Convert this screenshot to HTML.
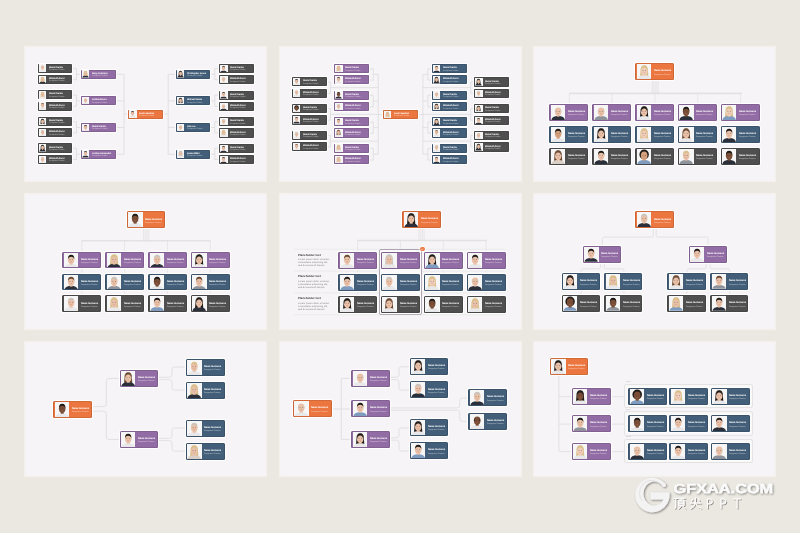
<!DOCTYPE html><html><head><meta charset="utf-8"><style>
*{margin:0;padding:0;box-sizing:border-box}
html,body{width:800px;height:533px;overflow:hidden;background:#ebe7e1;font-family:"Liberation Sans",sans-serif;text-rendering:geometricPrecision}
.pn{position:absolute;width:243.4px;height:136.6px;background:#f6f4f6;box-shadow:inset 0 0 1px 1px rgba(243,240,232,.9),0 0 0 .4px #efebe3}
.ln{position:absolute;overflow:visible}
.c{position:absolute;border-radius:1.5px;box-shadow:inset 0 0 0 .6px rgba(0,0,0,.22),0 0 0 0.8px #fff,0 0 1.2px .8px rgba(255,255,255,.8);overflow:hidden;color:#fff}
.c i{position:absolute;left:1.5px;top:1px;bottom:1px;aspect-ratio:.96;background:#f6f6f6;overflow:hidden}
.c i svg{width:100%;height:100%;display:block}
.c b{position:absolute;left:18.6px;top:7.2px;font-size:2.5px;line-height:2.5px;letter-spacing:-.1px;white-space:nowrap;font-weight:bold;will-change:transform}
.c u{position:absolute;left:18.6px;top:11.4px;font-size:1.8px;line-height:1.8px;white-space:nowrap;text-decoration:none;color:rgba(255,255,255,.6);will-change:transform}
.s{border-radius:1px;box-shadow:inset 0 0 0 .5px rgba(0,0,0,.22),0 0 0 0.6px #fff,0 0 1px .6px rgba(255,255,255,.8)}
.s i{left:1.1px;top:.9px;bottom:.9px}
.s b{left:11px;top:3.2px;font-size:2.35px;line-height:2.3px}
.s u{left:11px;top:6.5px;font-size:1.7px;line-height:1.7px}
.gb{position:absolute}
.tl{position:absolute;font-size:1.5px;line-height:1.5px;color:#9a9a9a;white-space:nowrap;will-change:transform}
.ph{position:absolute;white-space:nowrap}
.ph b{position:absolute;left:0;top:-.9px;font-size:2.95px;line-height:3px;color:#333;will-change:transform}
.ph p{position:absolute;left:0;top:3.85px;font-size:2.55px;line-height:3.1px;color:#888;will-change:transform}
.chk{position:absolute;width:4.4px;height:4.4px;border-radius:50%;background:#ec7640;box-shadow:0 0 0 .6px #fff}
</style></head><body>
<div class="pn" style="left:24.0px;top:45.8px"></div><div class="pn" style="left:279.0px;top:45.8px"></div><div class="pn" style="left:532.5px;top:45.8px"></div><div class="pn" style="left:24.0px;top:193.1px"></div><div class="pn" style="left:279.0px;top:193.1px"></div><div class="pn" style="left:532.5px;top:193.1px"></div><div class="pn" style="left:24.0px;top:340.7px"></div><div class="pn" style="left:279.0px;top:340.7px"></div><div class="pn" style="left:532.5px;top:340.7px"></div>
<svg class="ln" style="left:24.0px;top:45.8px" width="243.4" height="136.6" viewBox="0 0 243.4 136.6"><path d="M48.3,22.40H52.5V33.70H48.3M52.5,28.30H57.1M195.3,22.40H190.8V33.70H195.3M190.8,28.30H186.4M91.9,28.30H100M151.6,28.30H144.2M48.3,49.10H52.5V60.40H48.3M52.5,54.90H57.1M195.3,49.10H190.8V60.40H195.3M190.8,54.90H186.4M91.9,54.90H100M151.6,54.90H144.2M48.3,75.70H52.5V86.90H48.3M52.5,81.50H57.1M195.3,75.70H190.8V86.90H195.3M190.8,81.50H186.4M91.9,81.50H100M151.6,81.50H144.2M48.3,102.20H52.5V113.50H48.3M52.5,108.30H57.1M195.3,102.20H190.8V113.50H195.3M190.8,108.30H186.4M91.9,108.30H100M151.6,108.30H144.2M100,28.30V108.30M144.2,28.30V108.30M100,68.00H104.4M139.2,68.00H144.2" fill="none" stroke="#dcdcdd" stroke-width="0.8"/></svg><svg class="ln" style="left:279.0px;top:45.8px" width="243.4" height="136.6" viewBox="0 0 243.4 136.6"><path d="M90.1,22.80H94.3V34.10H90.1M94.3,28.45H99.2M153.1,22.80H148.9V34.10H153.1M148.9,28.45H143.9M90.1,49.30H94.3V60.80H90.1M94.3,55.05H99.2M153.1,49.30H148.9V60.80H153.1M148.9,55.05H143.9M90.1,76.00H94.3V87.20H90.1M94.3,81.60H99.2M153.1,76.00H148.9V87.20H153.1M148.9,81.60H143.9M90.1,102.40H94.3V114.00H90.1M94.3,108.20H99.2M153.1,102.40H148.9V114.00H153.1M148.9,108.20H143.9M47.9,35.90H51.4V47.40H47.9M51.4,41.65H99.2M195.3,35.90H191.8V47.40H195.3M191.8,41.65H143.9M47.9,62.60H51.4V74.20H47.9M51.4,68.40H99.2M195.3,62.60H191.8V74.20H195.3M191.8,68.40H143.9M47.9,89.40H51.4V100.90H47.9M51.4,95.15H99.2M195.3,89.40H191.8V100.90H195.3M191.8,95.15H143.9M99.2,28.45V108.20M143.9,28.45V108.20M99.2,68.60H103.9M138.7,68.60H143.9" fill="none" stroke="#dcdcdd" stroke-width="0.8"/></svg><svg class="ln" style="left:532.5px;top:45.8px" width="243.4" height="136.6" viewBox="0 0 243.4 136.6"><path d="M36.2,47.4H208.8" fill="none" stroke="#e3e2e3" stroke-width="1.7"/><path d="M119.20,34.6V47.4M120.70,34.6V47.4M122.20,34.6V47.4M123.70,34.6V47.4M125.20,34.6V47.4M36.25,47.4V58.20M79.10,47.4V58.20M121.95,47.4V58.20M164.80,47.4V58.20M207.65,47.4V58.20" fill="none" stroke="#dddcdd" stroke-width="0.55"/></svg><svg class="ln" style="left:24.0px;top:193.1px" width="243.4" height="136.6" viewBox="0 0 243.4 136.6"><path d="M57.7,47.7H186.6" fill="none" stroke="#e3e2e3" stroke-width="1.6"/><path d="M119.60,35.2V47.7M121.30,35.2V47.7M123.00,35.2V47.7M124.70,35.2V47.7M57.75,47.7V102.30M100.60,47.7V102.30M143.45,47.7V102.30M186.30,47.7V102.30" fill="none" stroke="#dddcdd" stroke-width="0.55"/></svg><svg class="ln" style="left:279.0px;top:193.1px" width="243.4" height="136.6" viewBox="0 0 243.4 136.6"><path d="M78.6,47.5H208" fill="none" stroke="#e3e2e3" stroke-width="1.6"/><path d="M140.00,35.2V47.5M141.70,35.2V47.5M143.40,35.2V47.5M145.10,35.2V47.5M78.55,47.5V102.70M121.40,47.5V102.70M164.25,47.5V102.70M207.10,47.5V102.70" fill="none" stroke="#dddcdd" stroke-width="0.55"/><path d="M15,56.30H226M15,78.10H226M15,99.90H226M15,121.70H226" fill="none" stroke="#e4e3e4" stroke-width="0.5"/></svg><svg class="ln" style="left:532.5px;top:193.1px" width="243.4" height="136.6" viewBox="0 0 243.4 136.6"><path d="M120.40,35.20V42.50Q120.40,44.10 118.80,44.10H71.00Q69.40,44.10 69.40,45.70V52.80M123.20,35.20V42.50Q123.20,44.10 124.80,44.10H173.50Q175.10,44.10 175.10,45.70V52.80M67.45,69.60V74.20Q67.45,75.80 65.85,75.80H49.75Q48.15,75.80 48.15,77.40V80.20M71.45,69.60V74.20Q71.45,75.80 73.05,75.80H89.25Q90.85,75.80 90.85,77.40V80.20M48.15,97V102.2M90.85,97V102.2M173.25,69.60V74.20Q173.25,75.80 171.65,75.80H155.55Q153.95,75.80 153.95,77.40V80.20M177.25,69.60V74.20Q177.25,75.80 178.85,75.80H195.05Q196.65,75.80 196.65,77.40V80.20M153.95,97V102.2M196.65,97V102.2" fill="none" stroke="#dcdbdc" stroke-width="0.7"/></svg><svg class="ln" style="left:24.0px;top:340.7px" width="243.4" height="136.6" viewBox="0 0 243.4 136.6"><path d="M68.00,65.60H79.80Q82.30,65.60 82.30,63.10V40.00Q82.30,37.50 84.80,37.50H95.50M68.00,70.20H79.80Q82.30,70.20 82.30,72.70V96.00Q82.30,98.50 84.80,98.50H95.50M134.20,36.30H145.50Q148.00,36.30 148.00,33.80V28.50Q148.00,26.00 150.50,26.00H161.30M134.20,38.60H145.50Q148.00,38.60 148.00,41.10V46.60Q148.00,49.10 150.50,49.10H161.30M134.20,97.40H145.50Q148.00,97.40 148.00,94.90V89.50Q148.00,87.00 150.50,87.00H161.30M134.20,99.60H145.50Q148.00,99.60 148.00,102.10V107.60Q148.00,110.10 150.50,110.10H161.30" fill="none" stroke="#dcdcdd" stroke-width="0.8"/></svg><svg class="ln" style="left:279.0px;top:340.7px" width="243.4" height="136.6" viewBox="0 0 243.4 136.6"><path d="M52.6,68H62.3M62.3,37.4V98.4M62.3,37.4H72M62.3,68H72M62.3,98.4H72M110.90,36.30H117.50Q120.00,36.30 120.00,33.80V28.30Q120.00,25.80 122.50,25.80H130.60M110.90,38.60H117.50Q120.00,38.60 120.00,41.10V46.70Q120.00,49.20 122.50,49.20H130.60M110.90,96.80H117.50Q120.00,96.80 120.00,94.30V89.40Q120.00,86.90 122.50,86.90H130.60M110.90,99.10H117.50Q120.00,99.10 120.00,101.60V107.50Q120.00,110.00 122.50,110.00H130.60M110.90,66.90H178.20Q180.70,66.90 180.70,64.40V59.50Q180.70,57.00 183.20,57.00H189.20M110.90,69.20H178.20Q180.70,69.20 180.70,71.70V77.90Q180.70,80.40 183.20,80.40H189.20" fill="none" stroke="#dcdcdd" stroke-width="0.8"/></svg><svg class="ln" style="left:532.5px;top:340.7px" width="243.4" height="136.6" viewBox="0 0 243.4 136.6"><path d="M25.9,34.5V110.1M25.9,55.70H39M78,55.70H92.1M25.9,83.10H39M78,83.10H92.1M25.9,110.60H39M78,110.60H92.1" fill="none" stroke="#dcdcdd" stroke-width="0.8"/></svg>
<div class="c s" style="left:37.50px;top:63.60px;width:34.80px;height:9.20px;background:#4f4f4f"><i><svg viewBox="0 0 10 10" preserveAspectRatio="none"><path d="M0.3,10 Q0.6,7.6 5,7.3 Q9.4,7.6 9.7,10Z" fill="#e8e8ea"/><rect x="4.0" y="5.8" width="2.0" height="2.0" fill="#e9c1a8"/><ellipse cx="5" cy="4.4" rx="2.3" ry="2.8" fill="#e9c1a8"/><path d="M3.9,4.35h.5M5.6,4.35h.5" stroke="#4a3a33" stroke-width=".35"/><path d="M4.4,5.7Q5,6.1 5.6,5.7" stroke="#b87a6a" stroke-width=".25" fill="none"/><path d="M2.9,4.8 Q2.8,3.2 3.3,2.8 L3.4,4.6Z M7.1,4.8 Q7.2,3.2 6.7,2.8 L6.6,4.6Z" fill="#c9c4be"/></svg></i><b>Daniel Garcia</b><u>Designation Position</u></div><div class="c s" style="left:219.30px;top:63.90px;width:34.80px;height:9.20px;background:#4f4f4f"><i><svg viewBox="0 0 10 10" preserveAspectRatio="none"><path d="M0.3,10 Q0.6,7.6 5,7.3 Q9.4,7.6 9.7,10Z" fill="#2b2f3a"/><rect x="4.0" y="5.8" width="2.0" height="2.0" fill="#e9c1a8"/><ellipse cx="5" cy="4.4" rx="2.3" ry="2.8" fill="#e9c1a8"/><path d="M3.9,4.35h.5M5.6,4.35h.5" stroke="#4a3a33" stroke-width=".35"/><path d="M4.4,5.7Q5,6.1 5.6,5.7" stroke="#b87a6a" stroke-width=".25" fill="none"/><path d="M2.85,4.4 Q2.5,1.2 5,1.2 Q7.5,1.2 7.15,4.4 Q6.9,2.5 5,2.5 Q3.1,2.5 2.85,4.4Z" fill="#1e1a18"/></svg></i><b>Daniel Garcia</b><u>Designation Position</u></div><div class="c s" style="left:37.50px;top:74.90px;width:34.80px;height:9.20px;background:#4f4f4f"><i><svg viewBox="0 0 10 10" preserveAspectRatio="none"><path d="M2.4,4.6 Q2.3,0.9 5,0.9 Q7.7,0.9 7.6,4.6 L7.9,8.6 L2.1,8.6Z" fill="#d9bf8a"/><path d="M0.3,10 Q0.6,7.6 5,7.3 Q9.4,7.6 9.7,10Z" fill="#2b2f3a"/><rect x="4.0" y="5.8" width="2.0" height="2.0" fill="#e9c1a8"/><ellipse cx="5" cy="4.4" rx="2.3" ry="2.8" fill="#e9c1a8"/><path d="M3.9,4.35h.5M5.6,4.35h.5" stroke="#4a3a33" stroke-width=".35"/><path d="M4.4,5.7Q5,6.1 5.6,5.7" stroke="#b87a6a" stroke-width=".25" fill="none"/><path d="M2.8,4.9 Q2.6,1.2 5,1.2 Q7.4,1.2 7.2,4.9 Q6.7,2.2 5,2.3 Q3.3,2.2 2.8,4.9Z" fill="#d9bf8a"/></svg></i><b>Elizabeth Perez</b><u>Designation Position</u></div><div class="c s" style="left:219.30px;top:75.20px;width:34.80px;height:9.20px;background:#4f4f4f"><i><svg viewBox="0 0 10 10" preserveAspectRatio="none"><path d="M0.3,10 Q0.6,7.6 5,7.3 Q9.4,7.6 9.7,10Z" fill="#e8e8ea"/><rect x="4.0" y="5.8" width="2.0" height="2.0" fill="#e9c1a8"/><ellipse cx="5" cy="4.4" rx="2.3" ry="2.8" fill="#e9c1a8"/><path d="M3.9,4.35h.5M5.6,4.35h.5" stroke="#4a3a33" stroke-width=".35"/><path d="M4.4,5.7Q5,6.1 5.6,5.7" stroke="#b87a6a" stroke-width=".25" fill="none"/><path d="M2.85,4.4 Q2.5,1.2 5,1.2 Q7.5,1.2 7.15,4.4 Q6.9,2.5 5,2.5 Q3.1,2.5 2.85,4.4Z" fill="#c9c4be"/></svg></i><b>Elizabeth Perez</b><u>Designation Position</u></div><div class="c s" style="left:37.50px;top:90.30px;width:34.80px;height:9.20px;background:#4f4f4f"><i><svg viewBox="0 0 10 10" preserveAspectRatio="none"><path d="M2.4,4.6 Q2.3,0.9 5,0.9 Q7.7,0.9 7.6,4.6 L7.9,8.6 L2.1,8.6Z" fill="#d9bf8a"/><path d="M0.3,10 Q0.6,7.6 5,7.3 Q9.4,7.6 9.7,10Z" fill="#e8e8ea"/><rect x="4.0" y="5.8" width="2.0" height="2.0" fill="#e9c1a8"/><ellipse cx="5" cy="4.4" rx="2.3" ry="2.8" fill="#e9c1a8"/><path d="M3.9,4.35h.5M5.6,4.35h.5" stroke="#4a3a33" stroke-width=".35"/><path d="M4.4,5.7Q5,6.1 5.6,5.7" stroke="#b87a6a" stroke-width=".25" fill="none"/><path d="M2.8,4.9 Q2.6,1.2 5,1.2 Q7.4,1.2 7.2,4.9 Q6.7,2.2 5,2.3 Q3.3,2.2 2.8,4.9Z" fill="#d9bf8a"/></svg></i><b>Daniel Garcia</b><u>Designation Position</u></div><div class="c s" style="left:219.30px;top:90.60px;width:34.80px;height:9.20px;background:#4f4f4f"><i><svg viewBox="0 0 10 10" preserveAspectRatio="none"><path d="M0.3,10 Q0.6,7.6 5,7.3 Q9.4,7.6 9.7,10Z" fill="#2b2f3a"/><rect x="4.0" y="5.8" width="2.0" height="2.0" fill="#e9c1a8"/><ellipse cx="5" cy="4.4" rx="2.3" ry="2.8" fill="#e9c1a8"/><path d="M3.9,4.35h.5M5.6,4.35h.5" stroke="#4a3a33" stroke-width=".35"/><path d="M4.4,5.7Q5,6.1 5.6,5.7" stroke="#b87a6a" stroke-width=".25" fill="none"/><path d="M2.85,4.4 Q2.5,1.2 5,1.2 Q7.5,1.2 7.15,4.4 Q6.9,2.5 5,2.5 Q3.1,2.5 2.85,4.4Z" fill="#1e1a18"/></svg></i><b>Daniel Garcia</b><u>Designation Position</u></div><div class="c s" style="left:37.50px;top:101.60px;width:34.80px;height:9.20px;background:#4f4f4f"><i><svg viewBox="0 0 10 10" preserveAspectRatio="none"><path d="M0.3,10 Q0.6,7.6 5,7.3 Q9.4,7.6 9.7,10Z" fill="#e8e8ea"/><rect x="4.0" y="5.8" width="2.0" height="2.0" fill="#e9c1a8"/><ellipse cx="5" cy="4.4" rx="2.3" ry="2.8" fill="#e9c1a8"/><path d="M3.9,4.35h.5M5.6,4.35h.5" stroke="#4a3a33" stroke-width=".35"/><path d="M4.4,5.7Q5,6.1 5.6,5.7" stroke="#b87a6a" stroke-width=".25" fill="none"/><path d="M2.85,4.4 Q2.5,1.2 5,1.2 Q7.5,1.2 7.15,4.4 Q6.9,2.5 5,2.5 Q3.1,2.5 2.85,4.4Z" fill="#6b4a35"/></svg></i><b>Elizabeth Perez</b><u>Designation Position</u></div><div class="c s" style="left:219.30px;top:101.90px;width:34.80px;height:9.20px;background:#4f4f4f"><i><svg viewBox="0 0 10 10" preserveAspectRatio="none"><path d="M0.3,10 Q0.6,7.6 5,7.3 Q9.4,7.6 9.7,10Z" fill="#2b2f3a"/><rect x="4.0" y="5.8" width="2.0" height="2.0" fill="#e9c1a8"/><ellipse cx="5" cy="4.4" rx="2.3" ry="2.8" fill="#e9c1a8"/><path d="M3.9,4.35h.5M5.6,4.35h.5" stroke="#4a3a33" stroke-width=".35"/><path d="M4.4,5.7Q5,6.1 5.6,5.7" stroke="#b87a6a" stroke-width=".25" fill="none"/><path d="M2.9,4.8 Q2.8,3.2 3.3,2.8 L3.4,4.6Z M7.1,4.8 Q7.2,3.2 6.7,2.8 L6.6,4.6Z" fill="#c9c4be"/></svg></i><b>Elizabeth Perez</b><u>Designation Position</u></div><div class="c s" style="left:37.50px;top:116.90px;width:34.80px;height:9.20px;background:#4f4f4f"><i><svg viewBox="0 0 10 10" preserveAspectRatio="none"><path d="M2.4,4.6 Q2.3,0.9 5,0.9 Q7.7,0.9 7.6,4.6 L7.9,8.6 L2.1,8.6Z" fill="#1e1a18"/><path d="M0.3,10 Q0.6,7.6 5,7.3 Q9.4,7.6 9.7,10Z" fill="#e8e8ea"/><rect x="4.0" y="5.8" width="2.0" height="2.0" fill="#e9c1a8"/><ellipse cx="5" cy="4.4" rx="2.3" ry="2.8" fill="#e9c1a8"/><path d="M3.9,4.35h.5M5.6,4.35h.5" stroke="#4a3a33" stroke-width=".35"/><path d="M4.4,5.7Q5,6.1 5.6,5.7" stroke="#b87a6a" stroke-width=".25" fill="none"/><path d="M2.8,4.9 Q2.6,1.2 5,1.2 Q7.4,1.2 7.2,4.9 Q6.7,2.2 5,2.3 Q3.3,2.2 2.8,4.9Z" fill="#1e1a18"/></svg></i><b>Daniel Garcia</b><u>Designation Position</u></div><div class="c s" style="left:219.30px;top:117.20px;width:34.80px;height:9.20px;background:#4f4f4f"><i><svg viewBox="0 0 10 10" preserveAspectRatio="none"><path d="M0.3,10 Q0.6,7.6 5,7.3 Q9.4,7.6 9.7,10Z" fill="#e8e8ea"/><rect x="4.0" y="5.8" width="2.0" height="2.0" fill="#e9c1a8"/><ellipse cx="5" cy="4.4" rx="2.3" ry="2.8" fill="#e9c1a8"/><path d="M3.9,4.35h.5M5.6,4.35h.5" stroke="#4a3a33" stroke-width=".35"/><path d="M4.4,5.7Q5,6.1 5.6,5.7" stroke="#b87a6a" stroke-width=".25" fill="none"/><path d="M2.85,4.4 Q2.5,1.2 5,1.2 Q7.5,1.2 7.15,4.4 Q6.9,2.5 5,2.5 Q3.1,2.5 2.85,4.4Z" fill="#c9c4be"/></svg></i><b>Daniel Garcia</b><u>Designation Position</u></div><div class="c s" style="left:37.50px;top:128.10px;width:34.80px;height:9.20px;background:#4f4f4f"><i><svg viewBox="0 0 10 10" preserveAspectRatio="none"><path d="M0.3,10 Q0.6,7.6 5,7.3 Q9.4,7.6 9.7,10Z" fill="#e8e8ea"/><rect x="4.0" y="5.8" width="2.0" height="2.0" fill="#e9c1a8"/><ellipse cx="5" cy="4.4" rx="2.3" ry="2.8" fill="#e9c1a8"/><path d="M3.9,4.35h.5M5.6,4.35h.5" stroke="#4a3a33" stroke-width=".35"/><path d="M4.4,5.7Q5,6.1 5.6,5.7" stroke="#b87a6a" stroke-width=".25" fill="none"/><path d="M2.85,4.4 Q2.5,1.2 5,1.2 Q7.5,1.2 7.15,4.4 Q6.9,2.5 5,2.5 Q3.1,2.5 2.85,4.4Z" fill="#c9c4be"/></svg></i><b>Elizabeth Perez</b><u>Designation Position</u></div><div class="c s" style="left:219.30px;top:128.40px;width:34.80px;height:9.20px;background:#4f4f4f"><i><svg viewBox="0 0 10 10" preserveAspectRatio="none"><path d="M2.4,4.6 Q2.3,0.9 5,0.9 Q7.7,0.9 7.6,4.6 L7.9,8.6 L2.1,8.6Z" fill="#d9bf8a"/><path d="M0.3,10 Q0.6,7.6 5,7.3 Q9.4,7.6 9.7,10Z" fill="#e8e8ea"/><rect x="4.0" y="5.8" width="2.0" height="2.0" fill="#e9c1a8"/><ellipse cx="5" cy="4.4" rx="2.3" ry="2.8" fill="#e9c1a8"/><path d="M3.9,4.35h.5M5.6,4.35h.5" stroke="#4a3a33" stroke-width=".35"/><path d="M4.4,5.7Q5,6.1 5.6,5.7" stroke="#b87a6a" stroke-width=".25" fill="none"/><path d="M2.8,4.9 Q2.6,1.2 5,1.2 Q7.4,1.2 7.2,4.9 Q6.7,2.2 5,2.3 Q3.3,2.2 2.8,4.9Z" fill="#d9bf8a"/></svg></i><b>Elizabeth Perez</b><u>Designation Position</u></div><div class="c s" style="left:37.50px;top:143.40px;width:34.80px;height:9.20px;background:#4f4f4f"><i><svg viewBox="0 0 10 10" preserveAspectRatio="none"><path d="M2.4,4.6 Q2.3,0.9 5,0.9 Q7.7,0.9 7.6,4.6 L7.9,8.6 L2.1,8.6Z" fill="#1e1a18"/><path d="M0.3,10 Q0.6,7.6 5,7.3 Q9.4,7.6 9.7,10Z" fill="#2b2f3a"/><rect x="4.0" y="5.8" width="2.0" height="2.0" fill="#e9c1a8"/><ellipse cx="5" cy="4.4" rx="2.3" ry="2.8" fill="#e9c1a8"/><path d="M3.9,4.35h.5M5.6,4.35h.5" stroke="#4a3a33" stroke-width=".35"/><path d="M4.4,5.7Q5,6.1 5.6,5.7" stroke="#b87a6a" stroke-width=".25" fill="none"/><path d="M2.8,4.9 Q2.6,1.2 5,1.2 Q7.4,1.2 7.2,4.9 Q6.7,2.2 5,2.3 Q3.3,2.2 2.8,4.9Z" fill="#1e1a18"/></svg></i><b>Daniel Garcia</b><u>Designation Position</u></div><div class="c s" style="left:219.30px;top:143.70px;width:34.80px;height:9.20px;background:#4f4f4f"><i><svg viewBox="0 0 10 10" preserveAspectRatio="none"><path d="M0.3,10 Q0.6,7.6 5,7.3 Q9.4,7.6 9.7,10Z" fill="#2b2f3a"/><rect x="4.0" y="5.8" width="2.0" height="2.0" fill="#e9c1a8"/><ellipse cx="5" cy="4.4" rx="2.3" ry="2.8" fill="#e9c1a8"/><path d="M3.9,4.35h.5M5.6,4.35h.5" stroke="#4a3a33" stroke-width=".35"/><path d="M4.4,5.7Q5,6.1 5.6,5.7" stroke="#b87a6a" stroke-width=".25" fill="none"/><path d="M2.85,4.4 Q2.5,1.2 5,1.2 Q7.5,1.2 7.15,4.4 Q6.9,2.5 5,2.5 Q3.1,2.5 2.85,4.4Z" fill="#1e1a18"/></svg></i><b>Daniel Garcia</b><u>Designation Position</u></div><div class="c s" style="left:37.50px;top:154.70px;width:34.80px;height:9.20px;background:#4f4f4f"><i><svg viewBox="0 0 10 10" preserveAspectRatio="none"><path d="M0.3,10 Q0.6,7.6 5,7.3 Q9.4,7.6 9.7,10Z" fill="#e8e8ea"/><rect x="4.0" y="5.8" width="2.0" height="2.0" fill="#e9c1a8"/><ellipse cx="5" cy="4.4" rx="2.3" ry="2.8" fill="#e9c1a8"/><path d="M3.9,4.35h.5M5.6,4.35h.5" stroke="#4a3a33" stroke-width=".35"/><path d="M4.4,5.7Q5,6.1 5.6,5.7" stroke="#b87a6a" stroke-width=".25" fill="none"/><path d="M2.85,4.4 Q2.5,1.2 5,1.2 Q7.5,1.2 7.15,4.4 Q6.9,2.5 5,2.5 Q3.1,2.5 2.85,4.4Z" fill="#c9c4be"/></svg></i><b>Elizabeth Perez</b><u>Designation Position</u></div><div class="c s" style="left:219.30px;top:155.00px;width:34.80px;height:9.20px;background:#4f4f4f"><i><svg viewBox="0 0 10 10" preserveAspectRatio="none"><path d="M0.3,10 Q0.6,7.6 5,7.3 Q9.4,7.6 9.7,10Z" fill="#2b2f3a"/><rect x="4.0" y="5.8" width="2.0" height="2.0" fill="#e9c1a8"/><ellipse cx="5" cy="4.4" rx="2.3" ry="2.8" fill="#e9c1a8"/><path d="M3.9,4.35h.5M5.6,4.35h.5" stroke="#4a3a33" stroke-width=".35"/><path d="M4.4,5.7Q5,6.1 5.6,5.7" stroke="#b87a6a" stroke-width=".25" fill="none"/><path d="M2.85,4.4 Q2.5,1.2 5,1.2 Q7.5,1.2 7.15,4.4 Q6.9,2.5 5,2.5 Q3.1,2.5 2.85,4.4Z" fill="#1e1a18"/></svg></i><b>Elizabeth Perez</b><u>Designation Position</u></div><div class="c s" style="left:81.10px;top:69.50px;width:34.80px;height:9.20px;background:#926ca4"><i><svg viewBox="0 0 10 10" preserveAspectRatio="none"><path d="M2.4,4.6 Q2.3,0.9 5,0.9 Q7.7,0.9 7.6,4.6 L7.9,8.6 L2.1,8.6Z" fill="#d9bf8a"/><path d="M0.3,10 Q0.6,7.6 5,7.3 Q9.4,7.6 9.7,10Z" fill="#2b2f3a"/><rect x="4.0" y="5.8" width="2.0" height="2.0" fill="#e9c1a8"/><ellipse cx="5" cy="4.4" rx="2.3" ry="2.8" fill="#e9c1a8"/><path d="M3.9,4.35h.5M5.6,4.35h.5" stroke="#4a3a33" stroke-width=".35"/><path d="M4.4,5.7Q5,6.1 5.6,5.7" stroke="#b87a6a" stroke-width=".25" fill="none"/><path d="M2.8,4.9 Q2.6,1.2 5,1.2 Q7.4,1.2 7.2,4.9 Q6.7,2.2 5,2.3 Q3.3,2.2 2.8,4.9Z" fill="#d9bf8a"/></svg></i><b>Mary Anderson</b><u>Designation Position</u></div><div class="c s" style="left:175.60px;top:69.50px;width:34.80px;height:9.20px;background:#425e78"><i><svg viewBox="0 0 10 10" preserveAspectRatio="none"><path d="M2.4,4.6 Q2.3,0.9 5,0.9 Q7.7,0.9 7.6,4.6 L7.9,8.6 L2.1,8.6Z" fill="#1e1a18"/><path d="M0.3,10 Q0.6,7.6 5,7.3 Q9.4,7.6 9.7,10Z" fill="#2b2f3a"/><rect x="4.0" y="5.8" width="2.0" height="2.0" fill="#e9c1a8"/><ellipse cx="5" cy="4.4" rx="2.3" ry="2.8" fill="#e9c1a8"/><path d="M3.9,4.35h.5M5.6,4.35h.5" stroke="#4a3a33" stroke-width=".35"/><path d="M4.4,5.7Q5,6.1 5.6,5.7" stroke="#b87a6a" stroke-width=".25" fill="none"/><path d="M2.8,4.9 Q2.6,1.2 5,1.2 Q7.4,1.2 7.2,4.9 Q6.7,2.2 5,2.3 Q3.3,2.2 2.8,4.9Z" fill="#1e1a18"/></svg></i><b>Christopher Jones</b><u>Designation Position</u></div><div class="c s" style="left:81.10px;top:96.10px;width:34.80px;height:9.20px;background:#926ca4"><i><svg viewBox="0 0 10 10" preserveAspectRatio="none"><path d="M0.3,10 Q0.6,7.6 5,7.3 Q9.4,7.6 9.7,10Z" fill="#e8e8ea"/><rect x="4.0" y="5.8" width="2.0" height="2.0" fill="#e9c1a8"/><ellipse cx="5" cy="4.4" rx="2.3" ry="2.8" fill="#e9c1a8"/><path d="M3.9,4.35h.5M5.6,4.35h.5" stroke="#4a3a33" stroke-width=".35"/><path d="M4.4,5.7Q5,6.1 5.6,5.7" stroke="#b87a6a" stroke-width=".25" fill="none"/><path d="M2.9,4.8 Q2.8,3.2 3.3,2.8 L3.4,4.6Z M7.1,4.8 Q7.2,3.2 6.7,2.8 L6.6,4.6Z" fill="#c9c4be"/></svg></i><b>Joshua Moore</b><u>Designation Position</u></div><div class="c s" style="left:175.60px;top:96.10px;width:34.80px;height:9.20px;background:#425e78"><i><svg viewBox="0 0 10 10" preserveAspectRatio="none"><path d="M2.4,4.6 Q2.3,0.9 5,0.9 Q7.7,0.9 7.6,4.6 L7.9,8.6 L2.1,8.6Z" fill="#1e1a18"/><path d="M0.3,10 Q0.6,7.6 5,7.3 Q9.4,7.6 9.7,10Z" fill="#e8e8ea"/><rect x="4.0" y="5.8" width="2.0" height="2.0" fill="#e9c1a8"/><ellipse cx="5" cy="4.4" rx="2.3" ry="2.8" fill="#e9c1a8"/><path d="M3.9,4.35h.5M5.6,4.35h.5" stroke="#4a3a33" stroke-width=".35"/><path d="M4.4,5.7Q5,6.1 5.6,5.7" stroke="#b87a6a" stroke-width=".25" fill="none"/><path d="M2.8,4.9 Q2.6,1.2 5,1.2 Q7.4,1.2 7.2,4.9 Q6.7,2.2 5,2.3 Q3.3,2.2 2.8,4.9Z" fill="#1e1a18"/></svg></i><b>Michael Garcia</b><u>Designation Position</u></div><div class="c s" style="left:81.10px;top:122.70px;width:34.80px;height:9.20px;background:#926ca4"><i><svg viewBox="0 0 10 10" preserveAspectRatio="none"><path d="M0.3,10 Q0.6,7.6 5,7.3 Q9.4,7.6 9.7,10Z" fill="#e8e8ea"/><rect x="4.0" y="5.8" width="2.0" height="2.0" fill="#e9c1a8"/><ellipse cx="5" cy="4.4" rx="2.3" ry="2.8" fill="#e9c1a8"/><path d="M3.9,4.35h.5M5.6,4.35h.5" stroke="#4a3a33" stroke-width=".35"/><path d="M4.4,5.7Q5,6.1 5.6,5.7" stroke="#b87a6a" stroke-width=".25" fill="none"/><path d="M2.85,4.4 Q2.5,1.2 5,1.2 Q7.5,1.2 7.15,4.4 Q6.9,2.5 5,2.5 Q3.1,2.5 2.85,4.4Z" fill="#1e1a18"/></svg></i><b>Daniel Garcia</b><u>Designation Position</u></div><div class="c s" style="left:175.60px;top:122.70px;width:34.80px;height:9.20px;background:#425e78"><i><svg viewBox="0 0 10 10" preserveAspectRatio="none"><path d="M0.3,10 Q0.6,7.6 5,7.3 Q9.4,7.6 9.7,10Z" fill="#e8e8ea"/><rect x="4.0" y="5.8" width="2.0" height="2.0" fill="#e9c1a8"/><ellipse cx="5" cy="4.4" rx="2.3" ry="2.8" fill="#e9c1a8"/><path d="M3.9,4.35h.5M5.6,4.35h.5" stroke="#4a3a33" stroke-width=".35"/><path d="M4.4,5.7Q5,6.1 5.6,5.7" stroke="#b87a6a" stroke-width=".25" fill="none"/><path d="M2.9,4.8 Q2.8,3.2 3.3,2.8 L3.4,4.6Z M7.1,4.8 Q7.2,3.2 6.7,2.8 L6.6,4.6Z" fill="#c9c4be"/></svg></i><b>Lisa Lee</b><u>Designation Position</u></div><div class="c s" style="left:81.10px;top:149.50px;width:34.80px;height:9.20px;background:#926ca4"><i><svg viewBox="0 0 10 10" preserveAspectRatio="none"><path d="M0.3,10 Q0.6,7.6 5,7.3 Q9.4,7.6 9.7,10Z" fill="#2b2f3a"/><rect x="4.0" y="5.8" width="2.0" height="2.0" fill="#e9c1a8"/><ellipse cx="5" cy="4.4" rx="2.3" ry="2.8" fill="#e9c1a8"/><path d="M3.9,4.35h.5M5.6,4.35h.5" stroke="#4a3a33" stroke-width=".35"/><path d="M4.4,5.7Q5,6.1 5.6,5.7" stroke="#b87a6a" stroke-width=".25" fill="none"/><path d="M2.85,4.4 Q2.5,1.2 5,1.2 Q7.5,1.2 7.15,4.4 Q6.9,2.5 5,2.5 Q3.1,2.5 2.85,4.4Z" fill="#1e1a18"/></svg></i><b>Joshua Hernandez</b><u>Designation Position</u></div><div class="c s" style="left:175.60px;top:149.50px;width:34.80px;height:9.20px;background:#425e78"><i><svg viewBox="0 0 10 10" preserveAspectRatio="none"><path d="M2.4,4.6 Q2.3,0.9 5,0.9 Q7.7,0.9 7.6,4.6 L7.9,8.6 L2.1,8.6Z" fill="#c9c4be"/><path d="M0.3,10 Q0.6,7.6 5,7.3 Q9.4,7.6 9.7,10Z" fill="#e8e8ea"/><rect x="4.0" y="5.8" width="2.0" height="2.0" fill="#e9c1a8"/><ellipse cx="5" cy="4.4" rx="2.3" ry="2.8" fill="#e9c1a8"/><path d="M3.9,4.35h.5M5.6,4.35h.5" stroke="#4a3a33" stroke-width=".35"/><path d="M4.4,5.7Q5,6.1 5.6,5.7" stroke="#b87a6a" stroke-width=".25" fill="none"/><path d="M2.8,4.9 Q2.6,1.2 5,1.2 Q7.4,1.2 7.2,4.9 Q6.7,2.2 5,2.3 Q3.3,2.2 2.8,4.9Z" fill="#c9c4be"/></svg></i><b>Susan Miller</b><u>Designation Position</u></div><div class="c s" style="left:128.40px;top:109.60px;width:34.80px;height:9.20px;background:#ec7640"><i><svg viewBox="0 0 10 10" preserveAspectRatio="none"><path d="M0.3,10 Q0.6,7.6 5,7.3 Q9.4,7.6 9.7,10Z" fill="#e8e8ea"/><rect x="4.0" y="5.8" width="2.0" height="2.0" fill="#e9c1a8"/><ellipse cx="5" cy="4.4" rx="2.3" ry="2.8" fill="#e9c1a8"/><path d="M3.9,4.35h.5M5.6,4.35h.5" stroke="#4a3a33" stroke-width=".35"/><path d="M4.4,5.7Q5,6.1 5.6,5.7" stroke="#b87a6a" stroke-width=".25" fill="none"/><path d="M2.85,4.4 Q2.5,1.2 5,1.2 Q7.5,1.2 7.15,4.4 Q6.9,2.5 5,2.5 Q3.1,2.5 2.85,4.4Z" fill="#1e1a18"/></svg></i><b>Kevin Sanchez</b><u>Designation Position</u></div><div class="c s" style="left:292.10px;top:77.10px;width:34.80px;height:9.20px;background:#4f4f4f"><i><svg viewBox="0 0 10 10" preserveAspectRatio="none"><path d="M0.3,10 Q0.6,7.6 5,7.3 Q9.4,7.6 9.7,10Z" fill="#e8e8ea"/><rect x="4.0" y="5.8" width="2.0" height="2.0" fill="#e9c1a8"/><ellipse cx="5" cy="4.4" rx="2.3" ry="2.8" fill="#e9c1a8"/><path d="M3.9,4.35h.5M5.6,4.35h.5" stroke="#4a3a33" stroke-width=".35"/><path d="M4.4,5.7Q5,6.1 5.6,5.7" stroke="#b87a6a" stroke-width=".25" fill="none"/><path d="M2.85,4.4 Q2.5,1.2 5,1.2 Q7.5,1.2 7.15,4.4 Q6.9,2.5 5,2.5 Q3.1,2.5 2.85,4.4Z" fill="#1e1a18"/></svg></i><b>Daniel Garcia</b><u>Designation Position</u></div><div class="c s" style="left:474.30px;top:77.40px;width:34.80px;height:9.20px;background:#4f4f4f"><i><svg viewBox="0 0 10 10" preserveAspectRatio="none"><path d="M2.4,4.6 Q2.3,0.9 5,0.9 Q7.7,0.9 7.6,4.6 L7.9,8.6 L2.1,8.6Z" fill="#1e1a18"/><path d="M0.3,10 Q0.6,7.6 5,7.3 Q9.4,7.6 9.7,10Z" fill="#2b2f3a"/><rect x="4.0" y="5.8" width="2.0" height="2.0" fill="#e9c1a8"/><ellipse cx="5" cy="4.4" rx="2.3" ry="2.8" fill="#e9c1a8"/><path d="M3.9,4.35h.5M5.6,4.35h.5" stroke="#4a3a33" stroke-width=".35"/><path d="M4.4,5.7Q5,6.1 5.6,5.7" stroke="#b87a6a" stroke-width=".25" fill="none"/><path d="M2.8,4.9 Q2.6,1.2 5,1.2 Q7.4,1.2 7.2,4.9 Q6.7,2.2 5,2.3 Q3.3,2.2 2.8,4.9Z" fill="#1e1a18"/></svg></i><b>Daniel Garcia</b><u>Designation Position</u></div><div class="c s" style="left:292.10px;top:88.60px;width:34.80px;height:9.20px;background:#4f4f4f"><i><svg viewBox="0 0 10 10" preserveAspectRatio="none"><path d="M0.3,10 Q0.6,7.6 5,7.3 Q9.4,7.6 9.7,10Z" fill="#e8e8ea"/><rect x="4.0" y="5.8" width="2.0" height="2.0" fill="#e9c1a8"/><ellipse cx="5" cy="4.4" rx="2.3" ry="2.8" fill="#e9c1a8"/><path d="M3.9,4.35h.5M5.6,4.35h.5" stroke="#4a3a33" stroke-width=".35"/><path d="M4.4,5.7Q5,6.1 5.6,5.7" stroke="#b87a6a" stroke-width=".25" fill="none"/><path d="M2.9,4.8 Q2.8,3.2 3.3,2.8 L3.4,4.6Z M7.1,4.8 Q7.2,3.2 6.7,2.8 L6.6,4.6Z" fill="#c9c4be"/></svg></i><b>Elizabeth Perez</b><u>Designation Position</u></div><div class="c s" style="left:474.30px;top:88.90px;width:34.80px;height:9.20px;background:#4f4f4f"><i><svg viewBox="0 0 10 10" preserveAspectRatio="none"><path d="M0.3,10 Q0.6,7.6 5,7.3 Q9.4,7.6 9.7,10Z" fill="#e8e8ea"/><rect x="4.0" y="5.8" width="2.0" height="2.0" fill="#e9c1a8"/><ellipse cx="5" cy="4.4" rx="2.3" ry="2.8" fill="#e9c1a8"/><path d="M3.9,4.35h.5M5.6,4.35h.5" stroke="#4a3a33" stroke-width=".35"/><path d="M4.4,5.7Q5,6.1 5.6,5.7" stroke="#b87a6a" stroke-width=".25" fill="none"/><path d="M2.85,4.4 Q2.5,1.2 5,1.2 Q7.5,1.2 7.15,4.4 Q6.9,2.5 5,2.5 Q3.1,2.5 2.85,4.4Z" fill="#c9c4be"/></svg></i><b>Elizabeth Perez</b><u>Designation Position</u></div><div class="c s" style="left:292.10px;top:103.80px;width:34.80px;height:9.20px;background:#4f4f4f"><i><svg viewBox="0 0 10 10" preserveAspectRatio="none"><circle cx="5" cy="3.7" r="3.3" fill="#1e1a18"/><path d="M0.3,10 Q0.6,7.6 5,7.3 Q9.4,7.6 9.7,10Z" fill="#e8e8ea"/><rect x="4.0" y="5.8" width="2.0" height="2.0" fill="#7a4e36"/><ellipse cx="5" cy="4.4" rx="2.3" ry="2.8" fill="#7a4e36"/><path d="M3.9,4.35h.5M5.6,4.35h.5" stroke="#4a3a33" stroke-width=".35"/><path d="M4.4,5.7Q5,6.1 5.6,5.7" stroke="#b87a6a" stroke-width=".25" fill="none"/></svg></i><b>Daniel Garcia</b><u>Designation Position</u></div><div class="c s" style="left:474.30px;top:104.10px;width:34.80px;height:9.20px;background:#4f4f4f"><i><svg viewBox="0 0 10 10" preserveAspectRatio="none"><path d="M2.4,4.6 Q2.3,0.9 5,0.9 Q7.7,0.9 7.6,4.6 L7.9,8.6 L2.1,8.6Z" fill="#1e1a18"/><path d="M0.3,10 Q0.6,7.6 5,7.3 Q9.4,7.6 9.7,10Z" fill="#e8e8ea"/><rect x="4.0" y="5.8" width="2.0" height="2.0" fill="#e9c1a8"/><ellipse cx="5" cy="4.4" rx="2.3" ry="2.8" fill="#e9c1a8"/><path d="M3.9,4.35h.5M5.6,4.35h.5" stroke="#4a3a33" stroke-width=".35"/><path d="M4.4,5.7Q5,6.1 5.6,5.7" stroke="#b87a6a" stroke-width=".25" fill="none"/><path d="M2.8,4.9 Q2.6,1.2 5,1.2 Q7.4,1.2 7.2,4.9 Q6.7,2.2 5,2.3 Q3.3,2.2 2.8,4.9Z" fill="#1e1a18"/></svg></i><b>Daniel Garcia</b><u>Designation Position</u></div><div class="c s" style="left:292.10px;top:115.40px;width:34.80px;height:9.20px;background:#4f4f4f"><i><svg viewBox="0 0 10 10" preserveAspectRatio="none"><path d="M0.3,10 Q0.6,7.6 5,7.3 Q9.4,7.6 9.7,10Z" fill="#2b2f3a"/><rect x="4.0" y="5.8" width="2.0" height="2.0" fill="#e9c1a8"/><ellipse cx="5" cy="4.4" rx="2.3" ry="2.8" fill="#e9c1a8"/><path d="M3.9,4.35h.5M5.6,4.35h.5" stroke="#4a3a33" stroke-width=".35"/><path d="M4.4,5.7Q5,6.1 5.6,5.7" stroke="#b87a6a" stroke-width=".25" fill="none"/><path d="M2.85,4.4 Q2.5,1.2 5,1.2 Q7.5,1.2 7.15,4.4 Q6.9,2.5 5,2.5 Q3.1,2.5 2.85,4.4Z" fill="#1e1a18"/></svg></i><b>Elizabeth Perez</b><u>Designation Position</u></div><div class="c s" style="left:474.30px;top:115.70px;width:34.80px;height:9.20px;background:#4f4f4f"><i><svg viewBox="0 0 10 10" preserveAspectRatio="none"><path d="M0.3,10 Q0.6,7.6 5,7.3 Q9.4,7.6 9.7,10Z" fill="#2b2f3a"/><rect x="4.0" y="5.8" width="2.0" height="2.0" fill="#e9c1a8"/><ellipse cx="5" cy="4.4" rx="2.3" ry="2.8" fill="#e9c1a8"/><path d="M3.9,4.35h.5M5.6,4.35h.5" stroke="#4a3a33" stroke-width=".35"/><path d="M4.4,5.7Q5,6.1 5.6,5.7" stroke="#b87a6a" stroke-width=".25" fill="none"/><path d="M2.85,4.4 Q2.5,1.2 5,1.2 Q7.5,1.2 7.15,4.4 Q6.9,2.5 5,2.5 Q3.1,2.5 2.85,4.4Z" fill="#1e1a18"/></svg></i><b>Elizabeth Perez</b><u>Designation Position</u></div><div class="c s" style="left:292.10px;top:130.60px;width:34.80px;height:9.20px;background:#4f4f4f"><i><svg viewBox="0 0 10 10" preserveAspectRatio="none"><path d="M0.3,10 Q0.6,7.6 5,7.3 Q9.4,7.6 9.7,10Z" fill="#e8e8ea"/><rect x="4.0" y="5.8" width="2.0" height="2.0" fill="#e9c1a8"/><ellipse cx="5" cy="4.4" rx="2.3" ry="2.8" fill="#e9c1a8"/><path d="M3.9,4.35h.5M5.6,4.35h.5" stroke="#4a3a33" stroke-width=".35"/><path d="M4.4,5.7Q5,6.1 5.6,5.7" stroke="#b87a6a" stroke-width=".25" fill="none"/><path d="M2.85,4.4 Q2.5,1.2 5,1.2 Q7.5,1.2 7.15,4.4 Q6.9,2.5 5,2.5 Q3.1,2.5 2.85,4.4Z" fill="#c9c4be"/></svg></i><b>Daniel Garcia</b><u>Designation Position</u></div><div class="c s" style="left:474.30px;top:130.90px;width:34.80px;height:9.20px;background:#4f4f4f"><i><svg viewBox="0 0 10 10" preserveAspectRatio="none"><path d="M0.3,10 Q0.6,7.6 5,7.3 Q9.4,7.6 9.7,10Z" fill="#e8e8ea"/><rect x="4.0" y="5.8" width="2.0" height="2.0" fill="#e9c1a8"/><ellipse cx="5" cy="4.4" rx="2.3" ry="2.8" fill="#e9c1a8"/><path d="M3.9,4.35h.5M5.6,4.35h.5" stroke="#4a3a33" stroke-width=".35"/><path d="M4.4,5.7Q5,6.1 5.6,5.7" stroke="#b87a6a" stroke-width=".25" fill="none"/><path d="M2.85,4.4 Q2.5,1.2 5,1.2 Q7.5,1.2 7.15,4.4 Q6.9,2.5 5,2.5 Q3.1,2.5 2.85,4.4Z" fill="#c9c4be"/></svg></i><b>Daniel Garcia</b><u>Designation Position</u></div><div class="c s" style="left:292.10px;top:142.10px;width:34.80px;height:9.20px;background:#4f4f4f"><i><svg viewBox="0 0 10 10" preserveAspectRatio="none"><path d="M0.3,10 Q0.6,7.6 5,7.3 Q9.4,7.6 9.7,10Z" fill="#e8e8ea"/><rect x="4.0" y="5.8" width="2.0" height="2.0" fill="#e9c1a8"/><ellipse cx="5" cy="4.4" rx="2.3" ry="2.8" fill="#e9c1a8"/><path d="M3.9,4.35h.5M5.6,4.35h.5" stroke="#4a3a33" stroke-width=".35"/><path d="M4.4,5.7Q5,6.1 5.6,5.7" stroke="#b87a6a" stroke-width=".25" fill="none"/><path d="M2.85,4.4 Q2.5,1.2 5,1.2 Q7.5,1.2 7.15,4.4 Q6.9,2.5 5,2.5 Q3.1,2.5 2.85,4.4Z" fill="#6b4a35"/></svg></i><b>Elizabeth Perez</b><u>Designation Position</u></div><div class="c s" style="left:474.30px;top:142.40px;width:34.80px;height:9.20px;background:#4f4f4f"><i><svg viewBox="0 0 10 10" preserveAspectRatio="none"><path d="M2.4,4.6 Q2.3,0.9 5,0.9 Q7.7,0.9 7.6,4.6 L7.9,8.6 L2.1,8.6Z" fill="#1e1a18"/><path d="M0.3,10 Q0.6,7.6 5,7.3 Q9.4,7.6 9.7,10Z" fill="#2b2f3a"/><rect x="4.0" y="5.8" width="2.0" height="2.0" fill="#e9c1a8"/><ellipse cx="5" cy="4.4" rx="2.3" ry="2.8" fill="#e9c1a8"/><path d="M3.9,4.35h.5M5.6,4.35h.5" stroke="#4a3a33" stroke-width=".35"/><path d="M4.4,5.7Q5,6.1 5.6,5.7" stroke="#b87a6a" stroke-width=".25" fill="none"/><path d="M2.8,4.9 Q2.6,1.2 5,1.2 Q7.4,1.2 7.2,4.9 Q6.7,2.2 5,2.3 Q3.3,2.2 2.8,4.9Z" fill="#1e1a18"/></svg></i><b>Elizabeth Perez</b><u>Designation Position</u></div><div class="c s" style="left:334.30px;top:64.00px;width:34.80px;height:9.20px;background:#926ca4"><i><svg viewBox="0 0 10 10" preserveAspectRatio="none"><path d="M2.4,4.6 Q2.3,0.9 5,0.9 Q7.7,0.9 7.6,4.6 L7.9,8.6 L2.1,8.6Z" fill="#d9bf8a"/><path d="M0.3,10 Q0.6,7.6 5,7.3 Q9.4,7.6 9.7,10Z" fill="#e8e8ea"/><rect x="4.0" y="5.8" width="2.0" height="2.0" fill="#e9c1a8"/><ellipse cx="5" cy="4.4" rx="2.3" ry="2.8" fill="#e9c1a8"/><path d="M3.9,4.35h.5M5.6,4.35h.5" stroke="#4a3a33" stroke-width=".35"/><path d="M4.4,5.7Q5,6.1 5.6,5.7" stroke="#b87a6a" stroke-width=".25" fill="none"/><path d="M2.8,4.9 Q2.6,1.2 5,1.2 Q7.4,1.2 7.2,4.9 Q6.7,2.2 5,2.3 Q3.3,2.2 2.8,4.9Z" fill="#d9bf8a"/></svg></i><b>Daniel Garcia</b><u>Designation Position</u></div><div class="c s" style="left:432.10px;top:64.00px;width:34.80px;height:9.20px;background:#425e78"><i><svg viewBox="0 0 10 10" preserveAspectRatio="none"><path d="M0.3,10 Q0.6,7.6 5,7.3 Q9.4,7.6 9.7,10Z" fill="#2b2f3a"/><rect x="4.0" y="5.8" width="2.0" height="2.0" fill="#e9c1a8"/><ellipse cx="5" cy="4.4" rx="2.3" ry="2.8" fill="#e9c1a8"/><path d="M3.9,4.35h.5M5.6,4.35h.5" stroke="#4a3a33" stroke-width=".35"/><path d="M4.4,5.7Q5,6.1 5.6,5.7" stroke="#b87a6a" stroke-width=".25" fill="none"/><path d="M2.85,4.4 Q2.5,1.2 5,1.2 Q7.5,1.2 7.15,4.4 Q6.9,2.5 5,2.5 Q3.1,2.5 2.85,4.4Z" fill="#1e1a18"/></svg></i><b>Daniel Garcia</b><u>Designation Position</u></div><div class="c s" style="left:334.30px;top:75.30px;width:34.80px;height:9.20px;background:#926ca4"><i><svg viewBox="0 0 10 10" preserveAspectRatio="none"><path d="M0.3,10 Q0.6,7.6 5,7.3 Q9.4,7.6 9.7,10Z" fill="#e8e8ea"/><rect x="4.0" y="5.8" width="2.0" height="2.0" fill="#e9c1a8"/><ellipse cx="5" cy="4.4" rx="2.3" ry="2.8" fill="#e9c1a8"/><path d="M3.9,4.35h.5M5.6,4.35h.5" stroke="#4a3a33" stroke-width=".35"/><path d="M4.4,5.7Q5,6.1 5.6,5.7" stroke="#b87a6a" stroke-width=".25" fill="none"/><path d="M2.85,4.4 Q2.5,1.2 5,1.2 Q7.5,1.2 7.15,4.4 Q6.9,2.5 5,2.5 Q3.1,2.5 2.85,4.4Z" fill="#1e1a18"/></svg></i><b>Elizabeth Perez</b><u>Designation Position</u></div><div class="c s" style="left:432.10px;top:75.30px;width:34.80px;height:9.20px;background:#425e78"><i><svg viewBox="0 0 10 10" preserveAspectRatio="none"><path d="M2.4,4.6 Q2.3,0.9 5,0.9 Q7.7,0.9 7.6,4.6 L7.9,8.6 L2.1,8.6Z" fill="#1e1a18"/><path d="M0.3,10 Q0.6,7.6 5,7.3 Q9.4,7.6 9.7,10Z" fill="#2b2f3a"/><rect x="4.0" y="5.8" width="2.0" height="2.0" fill="#e9c1a8"/><ellipse cx="5" cy="4.4" rx="2.3" ry="2.8" fill="#e9c1a8"/><path d="M3.9,4.35h.5M5.6,4.35h.5" stroke="#4a3a33" stroke-width=".35"/><path d="M4.4,5.7Q5,6.1 5.6,5.7" stroke="#b87a6a" stroke-width=".25" fill="none"/><path d="M2.8,4.9 Q2.6,1.2 5,1.2 Q7.4,1.2 7.2,4.9 Q6.7,2.2 5,2.3 Q3.3,2.2 2.8,4.9Z" fill="#1e1a18"/></svg></i><b>Elizabeth Perez</b><u>Designation Position</u></div><div class="c s" style="left:334.30px;top:90.50px;width:34.80px;height:9.20px;background:#926ca4"><i><svg viewBox="0 0 10 10" preserveAspectRatio="none"><path d="M0.3,10 Q0.6,7.6 5,7.3 Q9.4,7.6 9.7,10Z" fill="#2b2f3a"/><rect x="4.0" y="5.8" width="2.0" height="2.0" fill="#7a4e36"/><ellipse cx="5" cy="4.4" rx="2.3" ry="2.8" fill="#7a4e36"/><path d="M3.9,4.35h.5M5.6,4.35h.5" stroke="#4a3a33" stroke-width=".35"/><path d="M4.4,5.7Q5,6.1 5.6,5.7" stroke="#b87a6a" stroke-width=".25" fill="none"/><path d="M2.85,4.4 Q2.5,1.2 5,1.2 Q7.5,1.2 7.15,4.4 Q6.9,2.5 5,2.5 Q3.1,2.5 2.85,4.4Z" fill="#1e1a18"/></svg></i><b>Daniel Garcia</b><u>Designation Position</u></div><div class="c s" style="left:432.10px;top:90.50px;width:34.80px;height:9.20px;background:#425e78"><i><svg viewBox="0 0 10 10" preserveAspectRatio="none"><path d="M0.3,10 Q0.6,7.6 5,7.3 Q9.4,7.6 9.7,10Z" fill="#e8e8ea"/><rect x="4.0" y="5.8" width="2.0" height="2.0" fill="#e9c1a8"/><ellipse cx="5" cy="4.4" rx="2.3" ry="2.8" fill="#e9c1a8"/><path d="M3.9,4.35h.5M5.6,4.35h.5" stroke="#4a3a33" stroke-width=".35"/><path d="M4.4,5.7Q5,6.1 5.6,5.7" stroke="#b87a6a" stroke-width=".25" fill="none"/><path d="M2.9,4.8 Q2.8,3.2 3.3,2.8 L3.4,4.6Z M7.1,4.8 Q7.2,3.2 6.7,2.8 L6.6,4.6Z" fill="#c9c4be"/></svg></i><b>Daniel Garcia</b><u>Designation Position</u></div><div class="c s" style="left:334.30px;top:102.00px;width:34.80px;height:9.20px;background:#926ca4"><i><svg viewBox="0 0 10 10" preserveAspectRatio="none"><path d="M0.3,10 Q0.6,7.6 5,7.3 Q9.4,7.6 9.7,10Z" fill="#e8e8ea"/><rect x="4.0" y="5.8" width="2.0" height="2.0" fill="#e9c1a8"/><ellipse cx="5" cy="4.4" rx="2.3" ry="2.8" fill="#e9c1a8"/><path d="M3.9,4.35h.5M5.6,4.35h.5" stroke="#4a3a33" stroke-width=".35"/><path d="M4.4,5.7Q5,6.1 5.6,5.7" stroke="#b87a6a" stroke-width=".25" fill="none"/><path d="M2.85,4.4 Q2.5,1.2 5,1.2 Q7.5,1.2 7.15,4.4 Q6.9,2.5 5,2.5 Q3.1,2.5 2.85,4.4Z" fill="#c9c4be"/></svg></i><b>Elizabeth Perez</b><u>Designation Position</u></div><div class="c s" style="left:432.10px;top:102.00px;width:34.80px;height:9.20px;background:#425e78"><i><svg viewBox="0 0 10 10" preserveAspectRatio="none"><path d="M2.4,4.6 Q2.3,0.9 5,0.9 Q7.7,0.9 7.6,4.6 L7.9,8.6 L2.1,8.6Z" fill="#1e1a18"/><path d="M0.3,10 Q0.6,7.6 5,7.3 Q9.4,7.6 9.7,10Z" fill="#e8e8ea"/><rect x="4.0" y="5.8" width="2.0" height="2.0" fill="#e9c1a8"/><ellipse cx="5" cy="4.4" rx="2.3" ry="2.8" fill="#e9c1a8"/><path d="M3.9,4.35h.5M5.6,4.35h.5" stroke="#4a3a33" stroke-width=".35"/><path d="M4.4,5.7Q5,6.1 5.6,5.7" stroke="#b87a6a" stroke-width=".25" fill="none"/><path d="M2.8,4.9 Q2.6,1.2 5,1.2 Q7.4,1.2 7.2,4.9 Q6.7,2.2 5,2.3 Q3.3,2.2 2.8,4.9Z" fill="#1e1a18"/></svg></i><b>Elizabeth Perez</b><u>Designation Position</u></div><div class="c s" style="left:334.30px;top:117.20px;width:34.80px;height:9.20px;background:#926ca4"><i><svg viewBox="0 0 10 10" preserveAspectRatio="none"><path d="M0.3,10 Q0.6,7.6 5,7.3 Q9.4,7.6 9.7,10Z" fill="#e8e8ea"/><rect x="4.0" y="5.8" width="2.0" height="2.0" fill="#e9c1a8"/><ellipse cx="5" cy="4.4" rx="2.3" ry="2.8" fill="#e9c1a8"/><path d="M3.9,4.35h.5M5.6,4.35h.5" stroke="#4a3a33" stroke-width=".35"/><path d="M4.4,5.7Q5,6.1 5.6,5.7" stroke="#b87a6a" stroke-width=".25" fill="none"/><path d="M2.85,4.4 Q2.5,1.2 5,1.2 Q7.5,1.2 7.15,4.4 Q6.9,2.5 5,2.5 Q3.1,2.5 2.85,4.4Z" fill="#1e1a18"/></svg></i><b>Daniel Garcia</b><u>Designation Position</u></div><div class="c s" style="left:432.10px;top:117.20px;width:34.80px;height:9.20px;background:#425e78"><i><svg viewBox="0 0 10 10" preserveAspectRatio="none"><path d="M2.4,4.6 Q2.3,0.9 5,0.9 Q7.7,0.9 7.6,4.6 L7.9,8.6 L2.1,8.6Z" fill="#1e1a18"/><path d="M0.3,10 Q0.6,7.6 5,7.3 Q9.4,7.6 9.7,10Z" fill="#2b2f3a"/><rect x="4.0" y="5.8" width="2.0" height="2.0" fill="#e9c1a8"/><ellipse cx="5" cy="4.4" rx="2.3" ry="2.8" fill="#e9c1a8"/><path d="M3.9,4.35h.5M5.6,4.35h.5" stroke="#4a3a33" stroke-width=".35"/><path d="M4.4,5.7Q5,6.1 5.6,5.7" stroke="#b87a6a" stroke-width=".25" fill="none"/><path d="M2.8,4.9 Q2.6,1.2 5,1.2 Q7.4,1.2 7.2,4.9 Q6.7,2.2 5,2.3 Q3.3,2.2 2.8,4.9Z" fill="#1e1a18"/></svg></i><b>Daniel Garcia</b><u>Designation Position</u></div><div class="c s" style="left:334.30px;top:128.40px;width:34.80px;height:9.20px;background:#926ca4"><i><svg viewBox="0 0 10 10" preserveAspectRatio="none"><path d="M2.4,4.6 Q2.3,0.9 5,0.9 Q7.7,0.9 7.6,4.6 L7.9,8.6 L2.1,8.6Z" fill="#6b4a35"/><path d="M0.3,10 Q0.6,7.6 5,7.3 Q9.4,7.6 9.7,10Z" fill="#e8e8ea"/><rect x="4.0" y="5.8" width="2.0" height="2.0" fill="#e9c1a8"/><ellipse cx="5" cy="4.4" rx="2.3" ry="2.8" fill="#e9c1a8"/><path d="M3.9,4.35h.5M5.6,4.35h.5" stroke="#4a3a33" stroke-width=".35"/><path d="M4.4,5.7Q5,6.1 5.6,5.7" stroke="#b87a6a" stroke-width=".25" fill="none"/><path d="M2.8,4.9 Q2.6,1.2 5,1.2 Q7.4,1.2 7.2,4.9 Q6.7,2.2 5,2.3 Q3.3,2.2 2.8,4.9Z" fill="#6b4a35"/></svg></i><b>Elizabeth Perez</b><u>Designation Position</u></div><div class="c s" style="left:432.10px;top:128.40px;width:34.80px;height:9.20px;background:#425e78"><i><svg viewBox="0 0 10 10" preserveAspectRatio="none"><path d="M0.3,10 Q0.6,7.6 5,7.3 Q9.4,7.6 9.7,10Z" fill="#e8e8ea"/><rect x="4.0" y="5.8" width="2.0" height="2.0" fill="#e9c1a8"/><ellipse cx="5" cy="4.4" rx="2.3" ry="2.8" fill="#e9c1a8"/><path d="M3.9,4.35h.5M5.6,4.35h.5" stroke="#4a3a33" stroke-width=".35"/><path d="M4.4,5.7Q5,6.1 5.6,5.7" stroke="#b87a6a" stroke-width=".25" fill="none"/><path d="M2.85,4.4 Q2.5,1.2 5,1.2 Q7.5,1.2 7.15,4.4 Q6.9,2.5 5,2.5 Q3.1,2.5 2.85,4.4Z" fill="#6b4a35"/></svg></i><b>Elizabeth Perez</b><u>Designation Position</u></div><div class="c s" style="left:334.30px;top:143.60px;width:34.80px;height:9.20px;background:#926ca4"><i><svg viewBox="0 0 10 10" preserveAspectRatio="none"><path d="M2.4,4.6 Q2.3,0.9 5,0.9 Q7.7,0.9 7.6,4.6 L7.9,8.6 L2.1,8.6Z" fill="#d9bf8a"/><path d="M0.3,10 Q0.6,7.6 5,7.3 Q9.4,7.6 9.7,10Z" fill="#e8e8ea"/><rect x="4.0" y="5.8" width="2.0" height="2.0" fill="#e9c1a8"/><ellipse cx="5" cy="4.4" rx="2.3" ry="2.8" fill="#e9c1a8"/><path d="M3.9,4.35h.5M5.6,4.35h.5" stroke="#4a3a33" stroke-width=".35"/><path d="M4.4,5.7Q5,6.1 5.6,5.7" stroke="#b87a6a" stroke-width=".25" fill="none"/><path d="M2.8,4.9 Q2.6,1.2 5,1.2 Q7.4,1.2 7.2,4.9 Q6.7,2.2 5,2.3 Q3.3,2.2 2.8,4.9Z" fill="#d9bf8a"/></svg></i><b>Daniel Garcia</b><u>Designation Position</u></div><div class="c s" style="left:432.10px;top:143.60px;width:34.80px;height:9.20px;background:#425e78"><i><svg viewBox="0 0 10 10" preserveAspectRatio="none"><path d="M0.3,10 Q0.6,7.6 5,7.3 Q9.4,7.6 9.7,10Z" fill="#e8e8ea"/><rect x="4.0" y="5.8" width="2.0" height="2.0" fill="#e9c1a8"/><ellipse cx="5" cy="4.4" rx="2.3" ry="2.8" fill="#e9c1a8"/><path d="M3.9,4.35h.5M5.6,4.35h.5" stroke="#4a3a33" stroke-width=".35"/><path d="M4.4,5.7Q5,6.1 5.6,5.7" stroke="#b87a6a" stroke-width=".25" fill="none"/><path d="M2.85,4.4 Q2.5,1.2 5,1.2 Q7.5,1.2 7.15,4.4 Q6.9,2.5 5,2.5 Q3.1,2.5 2.85,4.4Z" fill="#c9c4be"/></svg></i><b>Daniel Garcia</b><u>Designation Position</u></div><div class="c s" style="left:334.30px;top:155.20px;width:34.80px;height:9.20px;background:#926ca4"><i><svg viewBox="0 0 10 10" preserveAspectRatio="none"><path d="M2.4,4.6 Q2.3,0.9 5,0.9 Q7.7,0.9 7.6,4.6 L7.9,8.6 L2.1,8.6Z" fill="#d9bf8a"/><path d="M0.3,10 Q0.6,7.6 5,7.3 Q9.4,7.6 9.7,10Z" fill="#e8e8ea"/><rect x="4.0" y="5.8" width="2.0" height="2.0" fill="#e9c1a8"/><ellipse cx="5" cy="4.4" rx="2.3" ry="2.8" fill="#e9c1a8"/><path d="M3.9,4.35h.5M5.6,4.35h.5" stroke="#4a3a33" stroke-width=".35"/><path d="M4.4,5.7Q5,6.1 5.6,5.7" stroke="#b87a6a" stroke-width=".25" fill="none"/><path d="M2.8,4.9 Q2.6,1.2 5,1.2 Q7.4,1.2 7.2,4.9 Q6.7,2.2 5,2.3 Q3.3,2.2 2.8,4.9Z" fill="#d9bf8a"/></svg></i><b>Elizabeth Perez</b><u>Designation Position</u></div><div class="c s" style="left:432.10px;top:155.20px;width:34.80px;height:9.20px;background:#425e78"><i><svg viewBox="0 0 10 10" preserveAspectRatio="none"><path d="M0.3,10 Q0.6,7.6 5,7.3 Q9.4,7.6 9.7,10Z" fill="#2b2f3a"/><rect x="4.0" y="5.8" width="2.0" height="2.0" fill="#e9c1a8"/><ellipse cx="5" cy="4.4" rx="2.3" ry="2.8" fill="#e9c1a8"/><path d="M3.9,4.35h.5M5.6,4.35h.5" stroke="#4a3a33" stroke-width=".35"/><path d="M4.4,5.7Q5,6.1 5.6,5.7" stroke="#b87a6a" stroke-width=".25" fill="none"/><path d="M2.85,4.4 Q2.5,1.2 5,1.2 Q7.5,1.2 7.15,4.4 Q6.9,2.5 5,2.5 Q3.1,2.5 2.85,4.4Z" fill="#1e1a18"/></svg></i><b>Elizabeth Perez</b><u>Designation Position</u></div><div class="c s" style="left:382.90px;top:109.80px;width:34.80px;height:9.20px;background:#ec7640"><i><svg viewBox="0 0 10 10" preserveAspectRatio="none"><path d="M2.4,4.6 Q2.3,0.9 5,0.9 Q7.7,0.9 7.6,4.6 L7.9,8.6 L2.1,8.6Z" fill="#d9bf8a"/><path d="M0.3,10 Q0.6,7.6 5,7.3 Q9.4,7.6 9.7,10Z" fill="#e8e8ea"/><rect x="4.0" y="5.8" width="2.0" height="2.0" fill="#e9c1a8"/><ellipse cx="5" cy="4.4" rx="2.3" ry="2.8" fill="#e9c1a8"/><path d="M3.9,4.35h.5M5.6,4.35h.5" stroke="#4a3a33" stroke-width=".35"/><path d="M4.4,5.7Q5,6.1 5.6,5.7" stroke="#b87a6a" stroke-width=".25" fill="none"/><path d="M2.8,4.9 Q2.6,1.2 5,1.2 Q7.4,1.2 7.2,4.9 Q6.7,2.2 5,2.3 Q3.3,2.2 2.8,4.9Z" fill="#d9bf8a"/></svg></i><b>Kevin Sanchez</b><u>Designation Position</u></div><div class="c" style="left:635.40px;top:63.20px;width:38.80px;height:17.10px;background:#ec7640"><i><svg viewBox="0 0 10 10" preserveAspectRatio="none"><path d="M2.4,4.6 Q2.3,0.9 5,0.9 Q7.7,0.9 7.6,4.6 L7.9,8.6 L2.1,8.6Z" fill="#d9bf8a"/><path d="M0.3,10 Q0.6,7.6 5,7.3 Q9.4,7.6 9.7,10Z" fill="#e8e8ea"/><rect x="4.0" y="5.8" width="2.0" height="2.0" fill="#f0cdb8"/><ellipse cx="5" cy="4.4" rx="2.3" ry="2.8" fill="#f0cdb8"/><path d="M3.9,4.35h.5M5.6,4.35h.5" stroke="#4a3a33" stroke-width=".35"/><path d="M4.4,5.7Q5,6.1 5.6,5.7" stroke="#b87a6a" stroke-width=".25" fill="none"/><path d="M2.8,4.9 Q2.6,1.2 5,1.2 Q7.4,1.2 7.2,4.9 Q6.7,2.2 5,2.3 Q3.3,2.2 2.8,4.9Z" fill="#d9bf8a"/></svg></i><b>Name Surname</b><u>Designation Position</u></div><div class="c" style="left:549.30px;top:104.00px;width:38.90px;height:16.90px;background:#926ca4"><i><svg viewBox="0 0 10 10" preserveAspectRatio="none"><path d="M0.3,10 Q0.6,7.6 5,7.3 Q9.4,7.6 9.7,10Z" fill="#2b2f3a"/><rect x="4.0" y="5.8" width="2.0" height="2.0" fill="#e9c1a8"/><ellipse cx="5" cy="4.4" rx="2.3" ry="2.8" fill="#e9c1a8"/><path d="M3.9,4.35h.5M5.6,4.35h.5" stroke="#4a3a33" stroke-width=".35"/><path d="M4.4,5.7Q5,6.1 5.6,5.7" stroke="#b87a6a" stroke-width=".25" fill="none"/><path d="M2.9,4.8 Q2.8,3.2 3.3,2.8 L3.4,4.6Z M7.1,4.8 Q7.2,3.2 6.7,2.8 L6.6,4.6Z" fill="#c9c4be"/></svg></i><b>Name Surname</b><u>Designation Position</u></div><div class="c" style="left:592.15px;top:104.00px;width:38.90px;height:16.90px;background:#926ca4"><i><svg viewBox="0 0 10 10" preserveAspectRatio="none"><path d="M0.3,10 Q0.6,7.6 5,7.3 Q9.4,7.6 9.7,10Z" fill="#8f949c"/><rect x="4.0" y="5.8" width="2.0" height="2.0" fill="#e9c1a8"/><ellipse cx="5" cy="4.4" rx="2.3" ry="2.8" fill="#e9c1a8"/><path d="M3.9,4.35h.5M5.6,4.35h.5" stroke="#4a3a33" stroke-width=".35"/><path d="M4.4,5.7Q5,6.1 5.6,5.7" stroke="#b87a6a" stroke-width=".25" fill="none"/><path d="M2.9,4.8 Q2.8,3.2 3.3,2.8 L3.4,4.6Z M7.1,4.8 Q7.2,3.2 6.7,2.8 L6.6,4.6Z" fill="#c9c4be"/></svg></i><b>Name Surname</b><u>Designation Position</u></div><div class="c" style="left:635.00px;top:104.00px;width:38.90px;height:16.90px;background:#926ca4"><i><svg viewBox="0 0 10 10" preserveAspectRatio="none"><path d="M2.4,4.6 Q2.3,0.9 5,0.9 Q7.7,0.9 7.6,4.6 L7.9,8.6 L2.1,8.6Z" fill="#1e1a18"/><path d="M0.3,10 Q0.6,7.6 5,7.3 Q9.4,7.6 9.7,10Z" fill="#e8e8ea"/><rect x="4.0" y="5.8" width="2.0" height="2.0" fill="#e9c1a8"/><ellipse cx="5" cy="4.4" rx="2.3" ry="2.8" fill="#e9c1a8"/><path d="M3.9,4.35h.5M5.6,4.35h.5" stroke="#4a3a33" stroke-width=".35"/><path d="M4.4,5.7Q5,6.1 5.6,5.7" stroke="#b87a6a" stroke-width=".25" fill="none"/><path d="M2.8,4.9 Q2.6,1.2 5,1.2 Q7.4,1.2 7.2,4.9 Q6.7,2.2 5,2.3 Q3.3,2.2 2.8,4.9Z" fill="#1e1a18"/></svg></i><b>Name Surname</b><u>Designation Position</u></div><div class="c" style="left:677.85px;top:104.00px;width:38.90px;height:16.90px;background:#926ca4"><i><svg viewBox="0 0 10 10" preserveAspectRatio="none"><path d="M0.3,10 Q0.6,7.6 5,7.3 Q9.4,7.6 9.7,10Z" fill="#2b2f3a"/><rect x="4.0" y="5.8" width="2.0" height="2.0" fill="#7a4e36"/><ellipse cx="5" cy="4.4" rx="2.3" ry="2.8" fill="#7a4e36"/><path d="M3.9,4.35h.5M5.6,4.35h.5" stroke="#4a3a33" stroke-width=".35"/><path d="M4.4,5.7Q5,6.1 5.6,5.7" stroke="#b87a6a" stroke-width=".25" fill="none"/><path d="M2.85,4.4 Q2.5,1.2 5,1.2 Q7.5,1.2 7.15,4.4 Q6.9,2.5 5,2.5 Q3.1,2.5 2.85,4.4Z" fill="#1e1a18"/></svg></i><b>Name Surname</b><u>Designation Position</u></div><div class="c" style="left:720.70px;top:104.00px;width:38.90px;height:16.90px;background:#926ca4"><i><svg viewBox="0 0 10 10" preserveAspectRatio="none"><path d="M2.4,4.6 Q2.3,0.9 5,0.9 Q7.7,0.9 7.6,4.6 L7.9,8.6 L2.1,8.6Z" fill="#d9bf8a"/><path d="M0.3,10 Q0.6,7.6 5,7.3 Q9.4,7.6 9.7,10Z" fill="#7f9cc0"/><rect x="4.0" y="5.8" width="2.0" height="2.0" fill="#f0cdb8"/><ellipse cx="5" cy="4.4" rx="2.3" ry="2.8" fill="#f0cdb8"/><path d="M3.9,4.35h.5M5.6,4.35h.5" stroke="#4a3a33" stroke-width=".35"/><path d="M4.4,5.7Q5,6.1 5.6,5.7" stroke="#b87a6a" stroke-width=".25" fill="none"/><path d="M2.8,4.9 Q2.6,1.2 5,1.2 Q7.4,1.2 7.2,4.9 Q6.7,2.2 5,2.3 Q3.3,2.2 2.8,4.9Z" fill="#d9bf8a"/></svg></i><b>Name Surname</b><u>Designation Position</u></div><div class="c" style="left:549.30px;top:126.00px;width:38.90px;height:16.90px;background:#425e78"><i><svg viewBox="0 0 10 10" preserveAspectRatio="none"><path d="M0.3,10 Q0.6,7.6 5,7.3 Q9.4,7.6 9.7,10Z" fill="#e8e8ea"/><rect x="4.0" y="5.8" width="2.0" height="2.0" fill="#d4a07e"/><ellipse cx="5" cy="4.4" rx="2.3" ry="2.8" fill="#d4a07e"/><path d="M3.9,4.35h.5M5.6,4.35h.5" stroke="#4a3a33" stroke-width=".35"/><path d="M4.4,5.7Q5,6.1 5.6,5.7" stroke="#b87a6a" stroke-width=".25" fill="none"/><path d="M2.85,4.4 Q2.5,1.2 5,1.2 Q7.5,1.2 7.15,4.4 Q6.9,2.5 5,2.5 Q3.1,2.5 2.85,4.4Z" fill="#1e1a18"/></svg></i><b>Name Surname</b><u>Designation Position</u></div><div class="c" style="left:592.15px;top:126.00px;width:38.90px;height:16.90px;background:#425e78"><i><svg viewBox="0 0 10 10" preserveAspectRatio="none"><path d="M2.4,4.6 Q2.3,0.9 5,0.9 Q7.7,0.9 7.6,4.6 L7.9,8.6 L2.1,8.6Z" fill="#1e1a18"/><path d="M0.3,10 Q0.6,7.6 5,7.3 Q9.4,7.6 9.7,10Z" fill="#e8e8ea"/><rect x="4.0" y="5.8" width="2.0" height="2.0" fill="#e9c1a8"/><ellipse cx="5" cy="4.4" rx="2.3" ry="2.8" fill="#e9c1a8"/><path d="M3.9,4.35h.5M5.6,4.35h.5" stroke="#4a3a33" stroke-width=".35"/><path d="M4.4,5.7Q5,6.1 5.6,5.7" stroke="#b87a6a" stroke-width=".25" fill="none"/><path d="M2.8,4.9 Q2.6,1.2 5,1.2 Q7.4,1.2 7.2,4.9 Q6.7,2.2 5,2.3 Q3.3,2.2 2.8,4.9Z" fill="#1e1a18"/></svg></i><b>Name Surname</b><u>Designation Position</u></div><div class="c" style="left:635.00px;top:126.00px;width:38.90px;height:16.90px;background:#425e78"><i><svg viewBox="0 0 10 10" preserveAspectRatio="none"><path d="M2.4,4.6 Q2.3,0.9 5,0.9 Q7.7,0.9 7.6,4.6 L7.9,8.6 L2.1,8.6Z" fill="#d9bf8a"/><path d="M0.3,10 Q0.6,7.6 5,7.3 Q9.4,7.6 9.7,10Z" fill="#e8e8ea"/><rect x="4.0" y="5.8" width="2.0" height="2.0" fill="#f0cdb8"/><ellipse cx="5" cy="4.4" rx="2.3" ry="2.8" fill="#f0cdb8"/><path d="M3.9,4.35h.5M5.6,4.35h.5" stroke="#4a3a33" stroke-width=".35"/><path d="M4.4,5.7Q5,6.1 5.6,5.7" stroke="#b87a6a" stroke-width=".25" fill="none"/><path d="M2.8,4.9 Q2.6,1.2 5,1.2 Q7.4,1.2 7.2,4.9 Q6.7,2.2 5,2.3 Q3.3,2.2 2.8,4.9Z" fill="#d9bf8a"/></svg></i><b>Name Surname</b><u>Designation Position</u></div><div class="c" style="left:677.85px;top:126.00px;width:38.90px;height:16.90px;background:#425e78"><i><svg viewBox="0 0 10 10" preserveAspectRatio="none"><path d="M2.4,4.6 Q2.3,0.9 5,0.9 Q7.7,0.9 7.6,4.6 L7.9,8.6 L2.1,8.6Z" fill="#6b4a35"/><path d="M0.3,10 Q0.6,7.6 5,7.3 Q9.4,7.6 9.7,10Z" fill="#e8e8ea"/><rect x="4.0" y="5.8" width="2.0" height="2.0" fill="#e9c1a8"/><ellipse cx="5" cy="4.4" rx="2.3" ry="2.8" fill="#e9c1a8"/><path d="M3.9,4.35h.5M5.6,4.35h.5" stroke="#4a3a33" stroke-width=".35"/><path d="M4.4,5.7Q5,6.1 5.6,5.7" stroke="#b87a6a" stroke-width=".25" fill="none"/><path d="M2.8,4.9 Q2.6,1.2 5,1.2 Q7.4,1.2 7.2,4.9 Q6.7,2.2 5,2.3 Q3.3,2.2 2.8,4.9Z" fill="#6b4a35"/></svg></i><b>Name Surname</b><u>Designation Position</u></div><div class="c" style="left:720.70px;top:126.00px;width:38.90px;height:16.90px;background:#425e78"><i><svg viewBox="0 0 10 10" preserveAspectRatio="none"><path d="M0.3,10 Q0.6,7.6 5,7.3 Q9.4,7.6 9.7,10Z" fill="#2b2f3a"/><rect x="4.0" y="5.8" width="2.0" height="2.0" fill="#e9c1a8"/><ellipse cx="5" cy="4.4" rx="2.3" ry="2.8" fill="#e9c1a8"/><path d="M3.9,4.35h.5M5.6,4.35h.5" stroke="#4a3a33" stroke-width=".35"/><path d="M4.4,5.7Q5,6.1 5.6,5.7" stroke="#b87a6a" stroke-width=".25" fill="none"/><path d="M2.85,4.4 Q2.5,1.2 5,1.2 Q7.5,1.2 7.15,4.4 Q6.9,2.5 5,2.5 Q3.1,2.5 2.85,4.4Z" fill="#1e1a18"/></svg></i><b>Name Surname</b><u>Designation Position</u></div><div class="c" style="left:549.30px;top:148.00px;width:38.90px;height:16.90px;background:#4f4f4f"><i><svg viewBox="0 0 10 10" preserveAspectRatio="none"><path d="M2.4,4.6 Q2.3,0.9 5,0.9 Q7.7,0.9 7.6,4.6 L7.9,8.6 L2.1,8.6Z" fill="#6b4a35"/><path d="M0.3,10 Q0.6,7.6 5,7.3 Q9.4,7.6 9.7,10Z" fill="#d9cfc6"/><rect x="4.0" y="5.8" width="2.0" height="2.0" fill="#e9c1a8"/><ellipse cx="5" cy="4.4" rx="2.3" ry="2.8" fill="#e9c1a8"/><path d="M3.9,4.35h.5M5.6,4.35h.5" stroke="#4a3a33" stroke-width=".35"/><path d="M4.4,5.7Q5,6.1 5.6,5.7" stroke="#b87a6a" stroke-width=".25" fill="none"/><path d="M2.8,4.9 Q2.6,1.2 5,1.2 Q7.4,1.2 7.2,4.9 Q6.7,2.2 5,2.3 Q3.3,2.2 2.8,4.9Z" fill="#6b4a35"/></svg></i><b>Name Surname</b><u>Designation Position</u></div><div class="c" style="left:592.15px;top:148.00px;width:38.90px;height:16.90px;background:#4f4f4f"><i><svg viewBox="0 0 10 10" preserveAspectRatio="none"><path d="M0.3,10 Q0.6,7.6 5,7.3 Q9.4,7.6 9.7,10Z" fill="#2b2f3a"/><rect x="4.0" y="5.8" width="2.0" height="2.0" fill="#e9c1a8"/><ellipse cx="5" cy="4.4" rx="2.3" ry="2.8" fill="#e9c1a8"/><path d="M3.9,4.35h.5M5.6,4.35h.5" stroke="#4a3a33" stroke-width=".35"/><path d="M4.4,5.7Q5,6.1 5.6,5.7" stroke="#b87a6a" stroke-width=".25" fill="none"/><path d="M2.85,4.4 Q2.5,1.2 5,1.2 Q7.5,1.2 7.15,4.4 Q6.9,2.5 5,2.5 Q3.1,2.5 2.85,4.4Z" fill="#1e1a18"/></svg></i><b>Name Surname</b><u>Designation Position</u></div><div class="c" style="left:635.00px;top:148.00px;width:38.90px;height:16.90px;background:#4f4f4f"><i><svg viewBox="0 0 10 10" preserveAspectRatio="none"><circle cx="5" cy="3.7" r="3.3" fill="#1e1a18"/><path d="M0.3,10 Q0.6,7.6 5,7.3 Q9.4,7.6 9.7,10Z" fill="#7f9cc0"/><rect x="4.0" y="5.8" width="2.0" height="2.0" fill="#d4a07e"/><ellipse cx="5" cy="4.4" rx="2.3" ry="2.8" fill="#d4a07e"/><path d="M3.9,4.35h.5M5.6,4.35h.5" stroke="#4a3a33" stroke-width=".35"/><path d="M4.4,5.7Q5,6.1 5.6,5.7" stroke="#b87a6a" stroke-width=".25" fill="none"/></svg></i><b>Name Surname</b><u>Designation Position</u></div><div class="c" style="left:677.85px;top:148.00px;width:38.90px;height:16.90px;background:#4f4f4f"><i><svg viewBox="0 0 10 10" preserveAspectRatio="none"><path d="M0.3,10 Q0.6,7.6 5,7.3 Q9.4,7.6 9.7,10Z" fill="#8f949c"/><rect x="4.0" y="5.8" width="2.0" height="2.0" fill="#e9c1a8"/><ellipse cx="5" cy="4.4" rx="2.3" ry="2.8" fill="#e9c1a8"/><path d="M3.9,4.35h.5M5.6,4.35h.5" stroke="#4a3a33" stroke-width=".35"/><path d="M4.4,5.7Q5,6.1 5.6,5.7" stroke="#b87a6a" stroke-width=".25" fill="none"/><path d="M2.85,4.4 Q2.5,1.2 5,1.2 Q7.5,1.2 7.15,4.4 Q6.9,2.5 5,2.5 Q3.1,2.5 2.85,4.4Z" fill="#d9bf8a"/></svg></i><b>Name Surname</b><u>Designation Position</u></div><div class="c" style="left:720.70px;top:148.00px;width:38.90px;height:16.90px;background:#4f4f4f"><i><svg viewBox="0 0 10 10" preserveAspectRatio="none"><path d="M0.3,10 Q0.6,7.6 5,7.3 Q9.4,7.6 9.7,10Z" fill="#2b2f3a"/><rect x="4.0" y="5.8" width="2.0" height="2.0" fill="#7a4e36"/><ellipse cx="5" cy="4.4" rx="2.3" ry="2.8" fill="#7a4e36"/><path d="M3.9,4.35h.5M5.6,4.35h.5" stroke="#4a3a33" stroke-width=".35"/><path d="M4.4,5.7Q5,6.1 5.6,5.7" stroke="#b87a6a" stroke-width=".25" fill="none"/><path d="M2.85,4.4 Q2.5,1.2 5,1.2 Q7.5,1.2 7.15,4.4 Q6.9,2.5 5,2.5 Q3.1,2.5 2.85,4.4Z" fill="#1e1a18"/></svg></i><b>Name Surname</b><u>Designation Position</u></div><div class="c" style="left:126.80px;top:211.40px;width:38.60px;height:16.90px;background:#ec7640"><i><svg viewBox="0 0 10 10" preserveAspectRatio="none"><path d="M0.3,10 Q0.6,7.6 5,7.3 Q9.4,7.6 9.7,10Z" fill="#e8e8ea"/><rect x="4.0" y="5.8" width="2.0" height="2.0" fill="#7a4e36"/><ellipse cx="5" cy="4.4" rx="2.3" ry="2.8" fill="#7a4e36"/><path d="M3.9,4.35h.5M5.6,4.35h.5" stroke="#4a3a33" stroke-width=".35"/><path d="M4.4,5.7Q5,6.1 5.6,5.7" stroke="#b87a6a" stroke-width=".25" fill="none"/><path d="M2.85,4.4 Q2.5,1.2 5,1.2 Q7.5,1.2 7.15,4.4 Q6.9,2.5 5,2.5 Q3.1,2.5 2.85,4.4Z" fill="#1e1a18"/></svg></i><b>Name Surname</b><u>Designation Position</u></div><div class="c" style="left:62.30px;top:251.50px;width:38.90px;height:16.90px;background:#926ca4"><i><svg viewBox="0 0 10 10" preserveAspectRatio="none"><path d="M0.3,10 Q0.6,7.6 5,7.3 Q9.4,7.6 9.7,10Z" fill="#e8e8ea"/><rect x="4.0" y="5.8" width="2.0" height="2.0" fill="#e9c1a8"/><ellipse cx="5" cy="4.4" rx="2.3" ry="2.8" fill="#e9c1a8"/><path d="M3.9,4.35h.5M5.6,4.35h.5" stroke="#4a3a33" stroke-width=".35"/><path d="M4.4,5.7Q5,6.1 5.6,5.7" stroke="#b87a6a" stroke-width=".25" fill="none"/><path d="M2.85,4.4 Q2.5,1.2 5,1.2 Q7.5,1.2 7.15,4.4 Q6.9,2.5 5,2.5 Q3.1,2.5 2.85,4.4Z" fill="#1e1a18"/></svg></i><b>Name Surname</b><u>Designation Position</u></div><div class="c" style="left:105.15px;top:251.50px;width:38.90px;height:16.90px;background:#926ca4"><i><svg viewBox="0 0 10 10" preserveAspectRatio="none"><path d="M2.4,4.6 Q2.3,0.9 5,0.9 Q7.7,0.9 7.6,4.6 L7.9,8.6 L2.1,8.6Z" fill="#d9bf8a"/><path d="M0.3,10 Q0.6,7.6 5,7.3 Q9.4,7.6 9.7,10Z" fill="#2b2f3a"/><rect x="4.0" y="5.8" width="2.0" height="2.0" fill="#e9c1a8"/><ellipse cx="5" cy="4.4" rx="2.3" ry="2.8" fill="#e9c1a8"/><path d="M3.9,4.35h.5M5.6,4.35h.5" stroke="#4a3a33" stroke-width=".35"/><path d="M4.4,5.7Q5,6.1 5.6,5.7" stroke="#b87a6a" stroke-width=".25" fill="none"/><path d="M2.8,4.9 Q2.6,1.2 5,1.2 Q7.4,1.2 7.2,4.9 Q6.7,2.2 5,2.3 Q3.3,2.2 2.8,4.9Z" fill="#d9bf8a"/></svg></i><b>Name Surname</b><u>Designation Position</u></div><div class="c" style="left:148.00px;top:251.50px;width:38.90px;height:16.90px;background:#926ca4"><i><svg viewBox="0 0 10 10" preserveAspectRatio="none"><path d="M0.3,10 Q0.6,7.6 5,7.3 Q9.4,7.6 9.7,10Z" fill="#2b2f3a"/><rect x="4.0" y="5.8" width="2.0" height="2.0" fill="#e9c1a8"/><ellipse cx="5" cy="4.4" rx="2.3" ry="2.8" fill="#e9c1a8"/><path d="M3.9,4.35h.5M5.6,4.35h.5" stroke="#4a3a33" stroke-width=".35"/><path d="M4.4,5.7Q5,6.1 5.6,5.7" stroke="#b87a6a" stroke-width=".25" fill="none"/><path d="M2.85,4.4 Q2.5,1.2 5,1.2 Q7.5,1.2 7.15,4.4 Q6.9,2.5 5,2.5 Q3.1,2.5 2.85,4.4Z" fill="#c9c4be"/></svg></i><b>Name Surname</b><u>Designation Position</u></div><div class="c" style="left:190.85px;top:251.50px;width:38.90px;height:16.90px;background:#926ca4"><i><svg viewBox="0 0 10 10" preserveAspectRatio="none"><path d="M2.4,4.6 Q2.3,0.9 5,0.9 Q7.7,0.9 7.6,4.6 L7.9,8.6 L2.1,8.6Z" fill="#1e1a18"/><path d="M0.3,10 Q0.6,7.6 5,7.3 Q9.4,7.6 9.7,10Z" fill="#e8e8ea"/><rect x="4.0" y="5.8" width="2.0" height="2.0" fill="#e9c1a8"/><ellipse cx="5" cy="4.4" rx="2.3" ry="2.8" fill="#e9c1a8"/><path d="M3.9,4.35h.5M5.6,4.35h.5" stroke="#4a3a33" stroke-width=".35"/><path d="M4.4,5.7Q5,6.1 5.6,5.7" stroke="#b87a6a" stroke-width=".25" fill="none"/><path d="M2.8,4.9 Q2.6,1.2 5,1.2 Q7.4,1.2 7.2,4.9 Q6.7,2.2 5,2.3 Q3.3,2.2 2.8,4.9Z" fill="#1e1a18"/></svg></i><b>Name Surname</b><u>Designation Position</u></div><div class="c" style="left:62.30px;top:273.50px;width:38.90px;height:16.90px;background:#425e78"><i><svg viewBox="0 0 10 10" preserveAspectRatio="none"><path d="M0.3,10 Q0.6,7.6 5,7.3 Q9.4,7.6 9.7,10Z" fill="#2b2f3a"/><rect x="4.0" y="5.8" width="2.0" height="2.0" fill="#e9c1a8"/><ellipse cx="5" cy="4.4" rx="2.3" ry="2.8" fill="#e9c1a8"/><path d="M3.9,4.35h.5M5.6,4.35h.5" stroke="#4a3a33" stroke-width=".35"/><path d="M4.4,5.7Q5,6.1 5.6,5.7" stroke="#b87a6a" stroke-width=".25" fill="none"/><path d="M2.85,4.4 Q2.5,1.2 5,1.2 Q7.5,1.2 7.15,4.4 Q6.9,2.5 5,2.5 Q3.1,2.5 2.85,4.4Z" fill="#6b4a35"/></svg></i><b>Name Surname</b><u>Designation Position</u></div><div class="c" style="left:105.15px;top:273.50px;width:38.90px;height:16.90px;background:#425e78"><i><svg viewBox="0 0 10 10" preserveAspectRatio="none"><path d="M0.3,10 Q0.6,7.6 5,7.3 Q9.4,7.6 9.7,10Z" fill="#8f949c"/><rect x="4.0" y="5.8" width="2.0" height="2.0" fill="#e9c1a8"/><ellipse cx="5" cy="4.4" rx="2.3" ry="2.8" fill="#e9c1a8"/><path d="M3.9,4.35h.5M5.6,4.35h.5" stroke="#4a3a33" stroke-width=".35"/><path d="M4.4,5.7Q5,6.1 5.6,5.7" stroke="#b87a6a" stroke-width=".25" fill="none"/><path d="M2.85,4.4 Q2.5,1.2 5,1.2 Q7.5,1.2 7.15,4.4 Q6.9,2.5 5,2.5 Q3.1,2.5 2.85,4.4Z" fill="#c9c4be"/></svg></i><b>Name Surname</b><u>Designation Position</u></div><div class="c" style="left:148.00px;top:273.50px;width:38.90px;height:16.90px;background:#425e78"><i><svg viewBox="0 0 10 10" preserveAspectRatio="none"><path d="M0.3,10 Q0.6,7.6 5,7.3 Q9.4,7.6 9.7,10Z" fill="#e8e8ea"/><rect x="4.0" y="5.8" width="2.0" height="2.0" fill="#7a4e36"/><ellipse cx="5" cy="4.4" rx="2.3" ry="2.8" fill="#7a4e36"/><path d="M3.9,4.35h.5M5.6,4.35h.5" stroke="#4a3a33" stroke-width=".35"/><path d="M4.4,5.7Q5,6.1 5.6,5.7" stroke="#b87a6a" stroke-width=".25" fill="none"/><path d="M2.85,4.4 Q2.5,1.2 5,1.2 Q7.5,1.2 7.15,4.4 Q6.9,2.5 5,2.5 Q3.1,2.5 2.85,4.4Z" fill="#1e1a18"/></svg></i><b>Name Surname</b><u>Designation Position</u></div><div class="c" style="left:190.85px;top:273.50px;width:38.90px;height:16.90px;background:#425e78"><i><svg viewBox="0 0 10 10" preserveAspectRatio="none"><path d="M0.3,10 Q0.6,7.6 5,7.3 Q9.4,7.6 9.7,10Z" fill="#8f949c"/><rect x="4.0" y="5.8" width="2.0" height="2.0" fill="#e9c1a8"/><ellipse cx="5" cy="4.4" rx="2.3" ry="2.8" fill="#e9c1a8"/><path d="M3.9,4.35h.5M5.6,4.35h.5" stroke="#4a3a33" stroke-width=".35"/><path d="M4.4,5.7Q5,6.1 5.6,5.7" stroke="#b87a6a" stroke-width=".25" fill="none"/><path d="M2.85,4.4 Q2.5,1.2 5,1.2 Q7.5,1.2 7.15,4.4 Q6.9,2.5 5,2.5 Q3.1,2.5 2.85,4.4Z" fill="#6b4a35"/></svg></i><b>Name Surname</b><u>Designation Position</u></div><div class="c" style="left:62.30px;top:295.40px;width:38.90px;height:16.90px;background:#4f4f4f"><i><svg viewBox="0 0 10 10" preserveAspectRatio="none"><path d="M0.3,10 Q0.6,7.6 5,7.3 Q9.4,7.6 9.7,10Z" fill="#e8e8ea"/><rect x="4.0" y="5.8" width="2.0" height="2.0" fill="#e9c1a8"/><ellipse cx="5" cy="4.4" rx="2.3" ry="2.8" fill="#e9c1a8"/><path d="M3.9,4.35h.5M5.6,4.35h.5" stroke="#4a3a33" stroke-width=".35"/><path d="M4.4,5.7Q5,6.1 5.6,5.7" stroke="#b87a6a" stroke-width=".25" fill="none"/><path d="M2.85,4.4 Q2.5,1.2 5,1.2 Q7.5,1.2 7.15,4.4 Q6.9,2.5 5,2.5 Q3.1,2.5 2.85,4.4Z" fill="#c9c4be"/></svg></i><b>Name Surname</b><u>Designation Position</u></div><div class="c" style="left:105.15px;top:295.40px;width:38.90px;height:16.90px;background:#4f4f4f"><i><svg viewBox="0 0 10 10" preserveAspectRatio="none"><path d="M2.4,4.6 Q2.3,0.9 5,0.9 Q7.7,0.9 7.6,4.6 L7.9,8.6 L2.1,8.6Z" fill="#d9bf8a"/><path d="M0.3,10 Q0.6,7.6 5,7.3 Q9.4,7.6 9.7,10Z" fill="#e8e8ea"/><rect x="4.0" y="5.8" width="2.0" height="2.0" fill="#e9c1a8"/><ellipse cx="5" cy="4.4" rx="2.3" ry="2.8" fill="#e9c1a8"/><path d="M3.9,4.35h.5M5.6,4.35h.5" stroke="#4a3a33" stroke-width=".35"/><path d="M4.4,5.7Q5,6.1 5.6,5.7" stroke="#b87a6a" stroke-width=".25" fill="none"/><path d="M2.8,4.9 Q2.6,1.2 5,1.2 Q7.4,1.2 7.2,4.9 Q6.7,2.2 5,2.3 Q3.3,2.2 2.8,4.9Z" fill="#d9bf8a"/></svg></i><b>Name Surname</b><u>Designation Position</u></div><div class="c" style="left:148.00px;top:295.40px;width:38.90px;height:16.90px;background:#4f4f4f"><i><svg viewBox="0 0 10 10" preserveAspectRatio="none"><path d="M0.3,10 Q0.6,7.6 5,7.3 Q9.4,7.6 9.7,10Z" fill="#7f9cc0"/><rect x="4.0" y="5.8" width="2.0" height="2.0" fill="#e9c1a8"/><ellipse cx="5" cy="4.4" rx="2.3" ry="2.8" fill="#e9c1a8"/><path d="M3.9,4.35h.5M5.6,4.35h.5" stroke="#4a3a33" stroke-width=".35"/><path d="M4.4,5.7Q5,6.1 5.6,5.7" stroke="#b87a6a" stroke-width=".25" fill="none"/><path d="M2.85,4.4 Q2.5,1.2 5,1.2 Q7.5,1.2 7.15,4.4 Q6.9,2.5 5,2.5 Q3.1,2.5 2.85,4.4Z" fill="#1e1a18"/></svg></i><b>Name Surname</b><u>Designation Position</u></div><div class="c" style="left:190.85px;top:295.40px;width:38.90px;height:16.90px;background:#4f4f4f"><i><svg viewBox="0 0 10 10" preserveAspectRatio="none"><path d="M2.4,4.6 Q2.3,0.9 5,0.9 Q7.7,0.9 7.6,4.6 L7.9,8.6 L2.1,8.6Z" fill="#1e1a18"/><path d="M0.3,10 Q0.6,7.6 5,7.3 Q9.4,7.6 9.7,10Z" fill="#2b2f3a"/><rect x="4.0" y="5.8" width="2.0" height="2.0" fill="#e9c1a8"/><ellipse cx="5" cy="4.4" rx="2.3" ry="2.8" fill="#e9c1a8"/><path d="M3.9,4.35h.5M5.6,4.35h.5" stroke="#4a3a33" stroke-width=".35"/><path d="M4.4,5.7Q5,6.1 5.6,5.7" stroke="#b87a6a" stroke-width=".25" fill="none"/><path d="M2.8,4.9 Q2.6,1.2 5,1.2 Q7.4,1.2 7.2,4.9 Q6.7,2.2 5,2.3 Q3.3,2.2 2.8,4.9Z" fill="#1e1a18"/></svg></i><b>Name Surname</b><u>Designation Position</u></div><div class="c" style="left:402.00px;top:211.30px;width:38.90px;height:17.00px;background:#ec7640"><i><svg viewBox="0 0 10 10" preserveAspectRatio="none"><path d="M2.4,4.6 Q2.3,0.9 5,0.9 Q7.7,0.9 7.6,4.6 L7.9,8.6 L2.1,8.6Z" fill="#1e1a18"/><path d="M0.3,10 Q0.6,7.6 5,7.3 Q9.4,7.6 9.7,10Z" fill="#2b2f3a"/><rect x="4.0" y="5.8" width="2.0" height="2.0" fill="#e9c1a8"/><ellipse cx="5" cy="4.4" rx="2.3" ry="2.8" fill="#e9c1a8"/><path d="M3.9,4.35h.5M5.6,4.35h.5" stroke="#4a3a33" stroke-width=".35"/><path d="M4.4,5.7Q5,6.1 5.6,5.7" stroke="#b87a6a" stroke-width=".25" fill="none"/><path d="M2.8,4.9 Q2.6,1.2 5,1.2 Q7.4,1.2 7.2,4.9 Q6.7,2.2 5,2.3 Q3.3,2.2 2.8,4.9Z" fill="#1e1a18"/></svg></i><b>Name Surname</b><u>Designation Position</u></div><div class="gb" style="left:379.40px;top:249.40px;width:43.00px;height:65.20px;border:0.8px solid #ada2b3;border-radius:2px;background:#fbfafb"></div><div class="c" style="left:338.10px;top:252.00px;width:38.90px;height:16.90px;background:#926ca4"><i><svg viewBox="0 0 10 10" preserveAspectRatio="none"><path d="M0.3,10 Q0.6,7.6 5,7.3 Q9.4,7.6 9.7,10Z" fill="#e8e8ea"/><rect x="4.0" y="5.8" width="2.0" height="2.0" fill="#e9c1a8"/><ellipse cx="5" cy="4.4" rx="2.3" ry="2.8" fill="#e9c1a8"/><path d="M3.9,4.35h.5M5.6,4.35h.5" stroke="#4a3a33" stroke-width=".35"/><path d="M4.4,5.7Q5,6.1 5.6,5.7" stroke="#b87a6a" stroke-width=".25" fill="none"/><path d="M2.85,4.4 Q2.5,1.2 5,1.2 Q7.5,1.2 7.15,4.4 Q6.9,2.5 5,2.5 Q3.1,2.5 2.85,4.4Z" fill="#6b4a35"/></svg></i><b>Name Surname</b><u>Designation Position</u></div><div class="c" style="left:380.95px;top:252.00px;width:38.90px;height:16.90px;background:#926ca4"><i><svg viewBox="0 0 10 10" preserveAspectRatio="none"><path d="M2.4,4.6 Q2.3,0.9 5,0.9 Q7.7,0.9 7.6,4.6 L7.9,8.6 L2.1,8.6Z" fill="#c9c4be"/><path d="M0.3,10 Q0.6,7.6 5,7.3 Q9.4,7.6 9.7,10Z" fill="#e8e8ea"/><rect x="4.0" y="5.8" width="2.0" height="2.0" fill="#e9c1a8"/><ellipse cx="5" cy="4.4" rx="2.3" ry="2.8" fill="#e9c1a8"/><path d="M3.9,4.35h.5M5.6,4.35h.5" stroke="#4a3a33" stroke-width=".35"/><path d="M4.4,5.7Q5,6.1 5.6,5.7" stroke="#b87a6a" stroke-width=".25" fill="none"/><path d="M2.8,4.9 Q2.6,1.2 5,1.2 Q7.4,1.2 7.2,4.9 Q6.7,2.2 5,2.3 Q3.3,2.2 2.8,4.9Z" fill="#c9c4be"/></svg></i><b>Name Surname</b><u>Designation Position</u></div><div class="c" style="left:423.80px;top:252.00px;width:38.90px;height:16.90px;background:#926ca4"><i><svg viewBox="0 0 10 10" preserveAspectRatio="none"><path d="M2.4,4.6 Q2.3,0.9 5,0.9 Q7.7,0.9 7.6,4.6 L7.9,8.6 L2.1,8.6Z" fill="#1e1a18"/><path d="M0.3,10 Q0.6,7.6 5,7.3 Q9.4,7.6 9.7,10Z" fill="#7f9cc0"/><rect x="4.0" y="5.8" width="2.0" height="2.0" fill="#e9c1a8"/><ellipse cx="5" cy="4.4" rx="2.3" ry="2.8" fill="#e9c1a8"/><path d="M3.9,4.35h.5M5.6,4.35h.5" stroke="#4a3a33" stroke-width=".35"/><path d="M4.4,5.7Q5,6.1 5.6,5.7" stroke="#b87a6a" stroke-width=".25" fill="none"/><path d="M2.8,4.9 Q2.6,1.2 5,1.2 Q7.4,1.2 7.2,4.9 Q6.7,2.2 5,2.3 Q3.3,2.2 2.8,4.9Z" fill="#1e1a18"/></svg></i><b>Name Surname</b><u>Designation Position</u></div><div class="c" style="left:466.65px;top:252.00px;width:38.90px;height:16.90px;background:#926ca4"><i><svg viewBox="0 0 10 10" preserveAspectRatio="none"><path d="M0.3,10 Q0.6,7.6 5,7.3 Q9.4,7.6 9.7,10Z" fill="#e8e8ea"/><rect x="4.0" y="5.8" width="2.0" height="2.0" fill="#e9c1a8"/><ellipse cx="5" cy="4.4" rx="2.3" ry="2.8" fill="#e9c1a8"/><path d="M3.9,4.35h.5M5.6,4.35h.5" stroke="#4a3a33" stroke-width=".35"/><path d="M4.4,5.7Q5,6.1 5.6,5.7" stroke="#b87a6a" stroke-width=".25" fill="none"/><path d="M2.85,4.4 Q2.5,1.2 5,1.2 Q7.5,1.2 7.15,4.4 Q6.9,2.5 5,2.5 Q3.1,2.5 2.85,4.4Z" fill="#1e1a18"/></svg></i><b>Name Surname</b><u>Designation Position</u></div><div class="c" style="left:338.10px;top:273.90px;width:38.90px;height:16.90px;background:#425e78"><i><svg viewBox="0 0 10 10" preserveAspectRatio="none"><path d="M0.3,10 Q0.6,7.6 5,7.3 Q9.4,7.6 9.7,10Z" fill="#7f9cc0"/><rect x="4.0" y="5.8" width="2.0" height="2.0" fill="#e9c1a8"/><ellipse cx="5" cy="4.4" rx="2.3" ry="2.8" fill="#e9c1a8"/><path d="M3.9,4.35h.5M5.6,4.35h.5" stroke="#4a3a33" stroke-width=".35"/><path d="M4.4,5.7Q5,6.1 5.6,5.7" stroke="#b87a6a" stroke-width=".25" fill="none"/><path d="M2.85,4.4 Q2.5,1.2 5,1.2 Q7.5,1.2 7.15,4.4 Q6.9,2.5 5,2.5 Q3.1,2.5 2.85,4.4Z" fill="#1e1a18"/></svg></i><b>Name Surname</b><u>Designation Position</u></div><div class="c" style="left:380.95px;top:273.90px;width:38.90px;height:16.90px;background:#425e78"><i><svg viewBox="0 0 10 10" preserveAspectRatio="none"><path d="M0.3,10 Q0.6,7.6 5,7.3 Q9.4,7.6 9.7,10Z" fill="#e8e8ea"/><rect x="4.0" y="5.8" width="2.0" height="2.0" fill="#e9c1a8"/><ellipse cx="5" cy="4.4" rx="2.3" ry="2.8" fill="#e9c1a8"/><path d="M3.9,4.35h.5M5.6,4.35h.5" stroke="#4a3a33" stroke-width=".35"/><path d="M4.4,5.7Q5,6.1 5.6,5.7" stroke="#b87a6a" stroke-width=".25" fill="none"/><path d="M2.85,4.4 Q2.5,1.2 5,1.2 Q7.5,1.2 7.15,4.4 Q6.9,2.5 5,2.5 Q3.1,2.5 2.85,4.4Z" fill="#c9c4be"/></svg></i><b>Name Surname</b><u>Designation Position</u></div><div class="c" style="left:423.80px;top:273.90px;width:38.90px;height:16.90px;background:#425e78"><i><svg viewBox="0 0 10 10" preserveAspectRatio="none"><path d="M2.4,4.6 Q2.3,0.9 5,0.9 Q7.7,0.9 7.6,4.6 L7.9,8.6 L2.1,8.6Z" fill="#d9bf8a"/><path d="M0.3,10 Q0.6,7.6 5,7.3 Q9.4,7.6 9.7,10Z" fill="#e8e8ea"/><rect x="4.0" y="5.8" width="2.0" height="2.0" fill="#f0cdb8"/><ellipse cx="5" cy="4.4" rx="2.3" ry="2.8" fill="#f0cdb8"/><path d="M3.9,4.35h.5M5.6,4.35h.5" stroke="#4a3a33" stroke-width=".35"/><path d="M4.4,5.7Q5,6.1 5.6,5.7" stroke="#b87a6a" stroke-width=".25" fill="none"/><path d="M2.8,4.9 Q2.6,1.2 5,1.2 Q7.4,1.2 7.2,4.9 Q6.7,2.2 5,2.3 Q3.3,2.2 2.8,4.9Z" fill="#d9bf8a"/></svg></i><b>Name Surname</b><u>Designation Position</u></div><div class="c" style="left:466.65px;top:273.90px;width:38.90px;height:16.90px;background:#425e78"><i><svg viewBox="0 0 10 10" preserveAspectRatio="none"><path d="M0.3,10 Q0.6,7.6 5,7.3 Q9.4,7.6 9.7,10Z" fill="#2b2f3a"/><rect x="4.0" y="5.8" width="2.0" height="2.0" fill="#e9c1a8"/><ellipse cx="5" cy="4.4" rx="2.3" ry="2.8" fill="#e9c1a8"/><path d="M3.9,4.35h.5M5.6,4.35h.5" stroke="#4a3a33" stroke-width=".35"/><path d="M4.4,5.7Q5,6.1 5.6,5.7" stroke="#b87a6a" stroke-width=".25" fill="none"/><path d="M2.9,4.8 Q2.8,3.2 3.3,2.8 L3.4,4.6Z M7.1,4.8 Q7.2,3.2 6.7,2.8 L6.6,4.6Z" fill="#c9c4be"/></svg></i><b>Name Surname</b><u>Designation Position</u></div><div class="c" style="left:338.10px;top:295.80px;width:38.90px;height:16.90px;background:#4f4f4f"><i><svg viewBox="0 0 10 10" preserveAspectRatio="none"><path d="M2.4,4.6 Q2.3,0.9 5,0.9 Q7.7,0.9 7.6,4.6 L7.9,8.6 L2.1,8.6Z" fill="#1e1a18"/><path d="M0.3,10 Q0.6,7.6 5,7.3 Q9.4,7.6 9.7,10Z" fill="#e8e8ea"/><rect x="4.0" y="5.8" width="2.0" height="2.0" fill="#e9c1a8"/><ellipse cx="5" cy="4.4" rx="2.3" ry="2.8" fill="#e9c1a8"/><path d="M3.9,4.35h.5M5.6,4.35h.5" stroke="#4a3a33" stroke-width=".35"/><path d="M4.4,5.7Q5,6.1 5.6,5.7" stroke="#b87a6a" stroke-width=".25" fill="none"/><path d="M2.8,4.9 Q2.6,1.2 5,1.2 Q7.4,1.2 7.2,4.9 Q6.7,2.2 5,2.3 Q3.3,2.2 2.8,4.9Z" fill="#1e1a18"/></svg></i><b>Name Surname</b><u>Designation Position</u></div><div class="c" style="left:380.95px;top:295.80px;width:38.90px;height:16.90px;background:#4f4f4f"><i><svg viewBox="0 0 10 10" preserveAspectRatio="none"><path d="M2.4,4.6 Q2.3,0.9 5,0.9 Q7.7,0.9 7.6,4.6 L7.9,8.6 L2.1,8.6Z" fill="#6b4a35"/><path d="M0.3,10 Q0.6,7.6 5,7.3 Q9.4,7.6 9.7,10Z" fill="#e8e8ea"/><rect x="4.0" y="5.8" width="2.0" height="2.0" fill="#e9c1a8"/><ellipse cx="5" cy="4.4" rx="2.3" ry="2.8" fill="#e9c1a8"/><path d="M3.9,4.35h.5M5.6,4.35h.5" stroke="#4a3a33" stroke-width=".35"/><path d="M4.4,5.7Q5,6.1 5.6,5.7" stroke="#b87a6a" stroke-width=".25" fill="none"/><path d="M2.8,4.9 Q2.6,1.2 5,1.2 Q7.4,1.2 7.2,4.9 Q6.7,2.2 5,2.3 Q3.3,2.2 2.8,4.9Z" fill="#6b4a35"/></svg></i><b>Name Surname</b><u>Designation Position</u></div><div class="c" style="left:423.80px;top:295.80px;width:38.90px;height:16.90px;background:#4f4f4f"><i><svg viewBox="0 0 10 10" preserveAspectRatio="none"><path d="M0.3,10 Q0.6,7.6 5,7.3 Q9.4,7.6 9.7,10Z" fill="#e8e8ea"/><rect x="4.0" y="5.8" width="2.0" height="2.0" fill="#7a4e36"/><ellipse cx="5" cy="4.4" rx="2.3" ry="2.8" fill="#7a4e36"/><path d="M3.9,4.35h.5M5.6,4.35h.5" stroke="#4a3a33" stroke-width=".35"/><path d="M4.4,5.7Q5,6.1 5.6,5.7" stroke="#b87a6a" stroke-width=".25" fill="none"/><path d="M2.85,4.4 Q2.5,1.2 5,1.2 Q7.5,1.2 7.15,4.4 Q6.9,2.5 5,2.5 Q3.1,2.5 2.85,4.4Z" fill="#1e1a18"/></svg></i><b>Name Surname</b><u>Designation Position</u></div><div class="c" style="left:466.65px;top:295.80px;width:38.90px;height:16.90px;background:#4f4f4f"><i><svg viewBox="0 0 10 10" preserveAspectRatio="none"><path d="M2.4,4.6 Q2.3,0.9 5,0.9 Q7.7,0.9 7.6,4.6 L7.9,8.6 L2.1,8.6Z" fill="#d9bf8a"/><path d="M0.3,10 Q0.6,7.6 5,7.3 Q9.4,7.6 9.7,10Z" fill="#e8e8ea"/><rect x="4.0" y="5.8" width="2.0" height="2.0" fill="#e9c1a8"/><ellipse cx="5" cy="4.4" rx="2.3" ry="2.8" fill="#e9c1a8"/><path d="M3.9,4.35h.5M5.6,4.35h.5" stroke="#4a3a33" stroke-width=".35"/><path d="M4.4,5.7Q5,6.1 5.6,5.7" stroke="#b87a6a" stroke-width=".25" fill="none"/><path d="M2.8,4.9 Q2.6,1.2 5,1.2 Q7.4,1.2 7.2,4.9 Q6.7,2.2 5,2.3 Q3.3,2.2 2.8,4.9Z" fill="#d9bf8a"/></svg></i><b>Name Surname</b><u>Designation Position</u></div><div class="ph" style="left:298.10px;top:254.50px"><b>Placeholder text</b><p>Lorem ipsum dolor sit amet,<br>consectetur adipiscing elit,<br>sed do eiusmod tempor.</p></div><div class="ph" style="left:298.10px;top:276.30px"><b>Placeholder text</b><p>Lorem ipsum dolor sit amet,<br>consectetur adipiscing elit,<br>sed do eiusmod tempor.</p></div><div class="ph" style="left:298.10px;top:298.10px"><b>Placeholder text</b><p>Lorem ipsum dolor sit amet,<br>consectetur adipiscing elit,<br>sed do eiusmod tempor.</p></div><div class="chk" style="left:420.20px;top:246.50px"><svg viewBox="0 0 10 10" width="4.4" height="4.4" style="display:block"><path d="M2.8,5.2L4.3,6.6L7.2,3.6" stroke="#fff" stroke-width="1.3" fill="none"/></svg></div><div class="c" style="left:635.30px;top:211.40px;width:38.60px;height:16.90px;background:#ec7640"><i><svg viewBox="0 0 10 10" preserveAspectRatio="none"><path d="M0.3,10 Q0.6,7.6 5,7.3 Q9.4,7.6 9.7,10Z" fill="#2b2f3a"/><rect x="4.0" y="5.8" width="2.0" height="2.0" fill="#e9c1a8"/><ellipse cx="5" cy="4.4" rx="2.3" ry="2.8" fill="#e9c1a8"/><path d="M3.9,4.35h.5M5.6,4.35h.5" stroke="#4a3a33" stroke-width=".35"/><path d="M4.4,5.7Q5,6.1 5.6,5.7" stroke="#b87a6a" stroke-width=".25" fill="none"/><path d="M2.85,4.4 Q2.5,1.2 5,1.2 Q7.5,1.2 7.15,4.4 Q6.9,2.5 5,2.5 Q3.1,2.5 2.85,4.4Z" fill="#c9c4be"/></svg></i><b>Name Surname</b><u>Designation Position</u></div><div class="c" style="left:582.80px;top:245.90px;width:38.30px;height:16.80px;background:#926ca4"><i><svg viewBox="0 0 10 10" preserveAspectRatio="none"><path d="M0.3,10 Q0.6,7.6 5,7.3 Q9.4,7.6 9.7,10Z" fill="#2b2f3a"/><rect x="4.0" y="5.8" width="2.0" height="2.0" fill="#e9c1a8"/><ellipse cx="5" cy="4.4" rx="2.3" ry="2.8" fill="#e9c1a8"/><path d="M3.9,4.35h.5M5.6,4.35h.5" stroke="#4a3a33" stroke-width=".35"/><path d="M4.4,5.7Q5,6.1 5.6,5.7" stroke="#b87a6a" stroke-width=".25" fill="none"/><path d="M2.85,4.4 Q2.5,1.2 5,1.2 Q7.5,1.2 7.15,4.4 Q6.9,2.5 5,2.5 Q3.1,2.5 2.85,4.4Z" fill="#1e1a18"/></svg></i><b>Name Surname</b><u>Designation Position</u></div><div class="c" style="left:688.60px;top:245.90px;width:38.30px;height:16.80px;background:#926ca4"><i><svg viewBox="0 0 10 10" preserveAspectRatio="none"><path d="M0.3,10 Q0.6,7.6 5,7.3 Q9.4,7.6 9.7,10Z" fill="#e8e8ea"/><rect x="4.0" y="5.8" width="2.0" height="2.0" fill="#e9c1a8"/><ellipse cx="5" cy="4.4" rx="2.3" ry="2.8" fill="#e9c1a8"/><path d="M3.9,4.35h.5M5.6,4.35h.5" stroke="#4a3a33" stroke-width=".35"/><path d="M4.4,5.7Q5,6.1 5.6,5.7" stroke="#b87a6a" stroke-width=".25" fill="none"/><path d="M2.85,4.4 Q2.5,1.2 5,1.2 Q7.5,1.2 7.15,4.4 Q6.9,2.5 5,2.5 Q3.1,2.5 2.85,4.4Z" fill="#1e1a18"/></svg></i><b>Name Surname</b><u>Designation Position</u></div><div class="c" style="left:561.50px;top:273.30px;width:38.30px;height:16.80px;background:#425e78"><i><svg viewBox="0 0 10 10" preserveAspectRatio="none"><path d="M2.4,4.6 Q2.3,0.9 5,0.9 Q7.7,0.9 7.6,4.6 L7.9,8.6 L2.1,8.6Z" fill="#1e1a18"/><path d="M0.3,10 Q0.6,7.6 5,7.3 Q9.4,7.6 9.7,10Z" fill="#e8e8ea"/><rect x="4.0" y="5.8" width="2.0" height="2.0" fill="#e9c1a8"/><ellipse cx="5" cy="4.4" rx="2.3" ry="2.8" fill="#e9c1a8"/><path d="M3.9,4.35h.5M5.6,4.35h.5" stroke="#4a3a33" stroke-width=".35"/><path d="M4.4,5.7Q5,6.1 5.6,5.7" stroke="#b87a6a" stroke-width=".25" fill="none"/><path d="M2.8,4.9 Q2.6,1.2 5,1.2 Q7.4,1.2 7.2,4.9 Q6.7,2.2 5,2.3 Q3.3,2.2 2.8,4.9Z" fill="#1e1a18"/></svg></i><b>Name Surname</b><u>Designation Position</u></div><div class="c" style="left:561.50px;top:295.30px;width:38.30px;height:16.80px;background:#4f4f4f"><i><svg viewBox="0 0 10 10" preserveAspectRatio="none"><circle cx="5" cy="3.7" r="3.3" fill="#1e1a18"/><path d="M0.3,10 Q0.6,7.6 5,7.3 Q9.4,7.6 9.7,10Z" fill="#7f9cc0"/><rect x="4.0" y="5.8" width="2.0" height="2.0" fill="#7a4e36"/><ellipse cx="5" cy="4.4" rx="2.3" ry="2.8" fill="#7a4e36"/><path d="M3.9,4.35h.5M5.6,4.35h.5" stroke="#4a3a33" stroke-width=".35"/><path d="M4.4,5.7Q5,6.1 5.6,5.7" stroke="#b87a6a" stroke-width=".25" fill="none"/></svg></i><b>Name Surname</b><u>Designation Position</u></div><div class="c" style="left:604.20px;top:273.30px;width:38.30px;height:16.80px;background:#425e78"><i><svg viewBox="0 0 10 10" preserveAspectRatio="none"><path d="M2.4,4.6 Q2.3,0.9 5,0.9 Q7.7,0.9 7.6,4.6 L7.9,8.6 L2.1,8.6Z" fill="#d9bf8a"/><path d="M0.3,10 Q0.6,7.6 5,7.3 Q9.4,7.6 9.7,10Z" fill="#e8e8ea"/><rect x="4.0" y="5.8" width="2.0" height="2.0" fill="#e9c1a8"/><ellipse cx="5" cy="4.4" rx="2.3" ry="2.8" fill="#e9c1a8"/><path d="M3.9,4.35h.5M5.6,4.35h.5" stroke="#4a3a33" stroke-width=".35"/><path d="M4.4,5.7Q5,6.1 5.6,5.7" stroke="#b87a6a" stroke-width=".25" fill="none"/><path d="M2.8,4.9 Q2.6,1.2 5,1.2 Q7.4,1.2 7.2,4.9 Q6.7,2.2 5,2.3 Q3.3,2.2 2.8,4.9Z" fill="#d9bf8a"/></svg></i><b>Name Surname</b><u>Designation Position</u></div><div class="c" style="left:604.20px;top:295.30px;width:38.30px;height:16.80px;background:#4f4f4f"><i><svg viewBox="0 0 10 10" preserveAspectRatio="none"><path d="M0.3,10 Q0.6,7.6 5,7.3 Q9.4,7.6 9.7,10Z" fill="#8f949c"/><rect x="4.0" y="5.8" width="2.0" height="2.0" fill="#7a4e36"/><ellipse cx="5" cy="4.4" rx="2.3" ry="2.8" fill="#7a4e36"/><path d="M3.9,4.35h.5M5.6,4.35h.5" stroke="#4a3a33" stroke-width=".35"/><path d="M4.4,5.7Q5,6.1 5.6,5.7" stroke="#b87a6a" stroke-width=".25" fill="none"/><path d="M2.85,4.4 Q2.5,1.2 5,1.2 Q7.5,1.2 7.15,4.4 Q6.9,2.5 5,2.5 Q3.1,2.5 2.85,4.4Z" fill="#1e1a18"/></svg></i><b>Name Surname</b><u>Designation Position</u></div><div class="c" style="left:667.30px;top:273.30px;width:38.30px;height:16.80px;background:#425e78"><i><svg viewBox="0 0 10 10" preserveAspectRatio="none"><path d="M2.4,4.6 Q2.3,0.9 5,0.9 Q7.7,0.9 7.6,4.6 L7.9,8.6 L2.1,8.6Z" fill="#6b4a35"/><path d="M0.3,10 Q0.6,7.6 5,7.3 Q9.4,7.6 9.7,10Z" fill="#e8e8ea"/><rect x="4.0" y="5.8" width="2.0" height="2.0" fill="#e9c1a8"/><ellipse cx="5" cy="4.4" rx="2.3" ry="2.8" fill="#e9c1a8"/><path d="M3.9,4.35h.5M5.6,4.35h.5" stroke="#4a3a33" stroke-width=".35"/><path d="M4.4,5.7Q5,6.1 5.6,5.7" stroke="#b87a6a" stroke-width=".25" fill="none"/><path d="M2.8,4.9 Q2.6,1.2 5,1.2 Q7.4,1.2 7.2,4.9 Q6.7,2.2 5,2.3 Q3.3,2.2 2.8,4.9Z" fill="#6b4a35"/></svg></i><b>Name Surname</b><u>Designation Position</u></div><div class="c" style="left:667.30px;top:295.30px;width:38.30px;height:16.80px;background:#4f4f4f"><i><svg viewBox="0 0 10 10" preserveAspectRatio="none"><path d="M2.4,4.6 Q2.3,0.9 5,0.9 Q7.7,0.9 7.6,4.6 L7.9,8.6 L2.1,8.6Z" fill="#d9bf8a"/><path d="M0.3,10 Q0.6,7.6 5,7.3 Q9.4,7.6 9.7,10Z" fill="#7f9cc0"/><rect x="4.0" y="5.8" width="2.0" height="2.0" fill="#e9c1a8"/><ellipse cx="5" cy="4.4" rx="2.3" ry="2.8" fill="#e9c1a8"/><path d="M3.9,4.35h.5M5.6,4.35h.5" stroke="#4a3a33" stroke-width=".35"/><path d="M4.4,5.7Q5,6.1 5.6,5.7" stroke="#b87a6a" stroke-width=".25" fill="none"/><path d="M2.8,4.9 Q2.6,1.2 5,1.2 Q7.4,1.2 7.2,4.9 Q6.7,2.2 5,2.3 Q3.3,2.2 2.8,4.9Z" fill="#d9bf8a"/></svg></i><b>Name Surname</b><u>Designation Position</u></div><div class="c" style="left:710.00px;top:273.30px;width:38.30px;height:16.80px;background:#425e78"><i><svg viewBox="0 0 10 10" preserveAspectRatio="none"><path d="M0.3,10 Q0.6,7.6 5,7.3 Q9.4,7.6 9.7,10Z" fill="#8f949c"/><rect x="4.0" y="5.8" width="2.0" height="2.0" fill="#e9c1a8"/><ellipse cx="5" cy="4.4" rx="2.3" ry="2.8" fill="#e9c1a8"/><path d="M3.9,4.35h.5M5.6,4.35h.5" stroke="#4a3a33" stroke-width=".35"/><path d="M4.4,5.7Q5,6.1 5.6,5.7" stroke="#b87a6a" stroke-width=".25" fill="none"/><path d="M2.85,4.4 Q2.5,1.2 5,1.2 Q7.5,1.2 7.15,4.4 Q6.9,2.5 5,2.5 Q3.1,2.5 2.85,4.4Z" fill="#6b4a35"/></svg></i><b>Name Surname</b><u>Designation Position</u></div><div class="c" style="left:710.00px;top:295.30px;width:38.30px;height:16.80px;background:#4f4f4f"><i><svg viewBox="0 0 10 10" preserveAspectRatio="none"><path d="M0.3,10 Q0.6,7.6 5,7.3 Q9.4,7.6 9.7,10Z" fill="#2b2f3a"/><rect x="4.0" y="5.8" width="2.0" height="2.0" fill="#e9c1a8"/><ellipse cx="5" cy="4.4" rx="2.3" ry="2.8" fill="#e9c1a8"/><path d="M3.9,4.35h.5M5.6,4.35h.5" stroke="#4a3a33" stroke-width=".35"/><path d="M4.4,5.7Q5,6.1 5.6,5.7" stroke="#b87a6a" stroke-width=".25" fill="none"/><path d="M2.85,4.4 Q2.5,1.2 5,1.2 Q7.5,1.2 7.15,4.4 Q6.9,2.5 5,2.5 Q3.1,2.5 2.85,4.4Z" fill="#1e1a18"/></svg></i><b>Name Surname</b><u>Designation Position</u></div><div class="c" style="left:53.00px;top:400.90px;width:39.00px;height:17.00px;background:#ec7640"><i><svg viewBox="0 0 10 10" preserveAspectRatio="none"><path d="M0.3,10 Q0.6,7.6 5,7.3 Q9.4,7.6 9.7,10Z" fill="#e8e8ea"/><rect x="4.0" y="5.8" width="2.0" height="2.0" fill="#7a4e36"/><ellipse cx="5" cy="4.4" rx="2.3" ry="2.8" fill="#7a4e36"/><path d="M3.9,4.35h.5M5.6,4.35h.5" stroke="#4a3a33" stroke-width=".35"/><path d="M4.4,5.7Q5,6.1 5.6,5.7" stroke="#b87a6a" stroke-width=".25" fill="none"/><path d="M2.85,4.4 Q2.5,1.2 5,1.2 Q7.5,1.2 7.15,4.4 Q6.9,2.5 5,2.5 Q3.1,2.5 2.85,4.4Z" fill="#1e1a18"/></svg></i><b>Name Surname</b><u>Designation Position</u></div><div class="c" style="left:119.50px;top:370.00px;width:38.70px;height:17.00px;background:#926ca4"><i><svg viewBox="0 0 10 10" preserveAspectRatio="none"><path d="M2.4,4.6 Q2.3,0.9 5,0.9 Q7.7,0.9 7.6,4.6 L7.9,8.6 L2.1,8.6Z" fill="#6b4a35"/><path d="M0.3,10 Q0.6,7.6 5,7.3 Q9.4,7.6 9.7,10Z" fill="#2b2f3a"/><rect x="4.0" y="5.8" width="2.0" height="2.0" fill="#e9c1a8"/><ellipse cx="5" cy="4.4" rx="2.3" ry="2.8" fill="#e9c1a8"/><path d="M3.9,4.35h.5M5.6,4.35h.5" stroke="#4a3a33" stroke-width=".35"/><path d="M4.4,5.7Q5,6.1 5.6,5.7" stroke="#b87a6a" stroke-width=".25" fill="none"/><path d="M2.8,4.9 Q2.6,1.2 5,1.2 Q7.4,1.2 7.2,4.9 Q6.7,2.2 5,2.3 Q3.3,2.2 2.8,4.9Z" fill="#6b4a35"/></svg></i><b>Name Surname</b><u>Designation Position</u></div><div class="c" style="left:119.50px;top:431.00px;width:38.70px;height:17.00px;background:#926ca4"><i><svg viewBox="0 0 10 10" preserveAspectRatio="none"><path d="M0.3,10 Q0.6,7.6 5,7.3 Q9.4,7.6 9.7,10Z" fill="#e8e8ea"/><rect x="4.0" y="5.8" width="2.0" height="2.0" fill="#e9c1a8"/><ellipse cx="5" cy="4.4" rx="2.3" ry="2.8" fill="#e9c1a8"/><path d="M3.9,4.35h.5M5.6,4.35h.5" stroke="#4a3a33" stroke-width=".35"/><path d="M4.4,5.7Q5,6.1 5.6,5.7" stroke="#b87a6a" stroke-width=".25" fill="none"/><path d="M2.85,4.4 Q2.5,1.2 5,1.2 Q7.5,1.2 7.15,4.4 Q6.9,2.5 5,2.5 Q3.1,2.5 2.85,4.4Z" fill="#1e1a18"/></svg></i><b>Name Surname</b><u>Designation Position</u></div><div class="c" style="left:185.90px;top:358.70px;width:39.10px;height:17.10px;background:#425e78"><i><svg viewBox="0 0 10 10" preserveAspectRatio="none"><path d="M0.3,10 Q0.6,7.6 5,7.3 Q9.4,7.6 9.7,10Z" fill="#e8e8ea"/><rect x="4.0" y="5.8" width="2.0" height="2.0" fill="#e9c1a8"/><ellipse cx="5" cy="4.4" rx="2.3" ry="2.8" fill="#e9c1a8"/><path d="M3.9,4.35h.5M5.6,4.35h.5" stroke="#4a3a33" stroke-width=".35"/><path d="M4.4,5.7Q5,6.1 5.6,5.7" stroke="#b87a6a" stroke-width=".25" fill="none"/><path d="M2.85,4.4 Q2.5,1.2 5,1.2 Q7.5,1.2 7.15,4.4 Q6.9,2.5 5,2.5 Q3.1,2.5 2.85,4.4Z" fill="#d9bf8a"/></svg></i><b>Name Surname</b><u>Designation Position</u></div><div class="c" style="left:185.90px;top:381.90px;width:39.10px;height:17.10px;background:#425e78"><i><svg viewBox="0 0 10 10" preserveAspectRatio="none"><path d="M2.4,4.6 Q2.3,0.9 5,0.9 Q7.7,0.9 7.6,4.6 L7.9,8.6 L2.1,8.6Z" fill="#d9bf8a"/><path d="M0.3,10 Q0.6,7.6 5,7.3 Q9.4,7.6 9.7,10Z" fill="#2b2f3a"/><rect x="4.0" y="5.8" width="2.0" height="2.0" fill="#e9c1a8"/><ellipse cx="5" cy="4.4" rx="2.3" ry="2.8" fill="#e9c1a8"/><path d="M3.9,4.35h.5M5.6,4.35h.5" stroke="#4a3a33" stroke-width=".35"/><path d="M4.4,5.7Q5,6.1 5.6,5.7" stroke="#b87a6a" stroke-width=".25" fill="none"/><path d="M2.8,4.9 Q2.6,1.2 5,1.2 Q7.4,1.2 7.2,4.9 Q6.7,2.2 5,2.3 Q3.3,2.2 2.8,4.9Z" fill="#d9bf8a"/></svg></i><b>Name Surname</b><u>Designation Position</u></div><div class="c" style="left:185.90px;top:419.70px;width:39.10px;height:17.10px;background:#425e78"><i><svg viewBox="0 0 10 10" preserveAspectRatio="none"><path d="M0.3,10 Q0.6,7.6 5,7.3 Q9.4,7.6 9.7,10Z" fill="#e8e8ea"/><rect x="4.0" y="5.8" width="2.0" height="2.0" fill="#e9c1a8"/><ellipse cx="5" cy="4.4" rx="2.3" ry="2.8" fill="#e9c1a8"/><path d="M3.9,4.35h.5M5.6,4.35h.5" stroke="#4a3a33" stroke-width=".35"/><path d="M4.4,5.7Q5,6.1 5.6,5.7" stroke="#b87a6a" stroke-width=".25" fill="none"/><path d="M2.85,4.4 Q2.5,1.2 5,1.2 Q7.5,1.2 7.15,4.4 Q6.9,2.5 5,2.5 Q3.1,2.5 2.85,4.4Z" fill="#c9c4be"/></svg></i><b>Name Surname</b><u>Designation Position</u></div><div class="c" style="left:185.90px;top:442.90px;width:39.10px;height:17.10px;background:#425e78"><i><svg viewBox="0 0 10 10" preserveAspectRatio="none"><path d="M2.4,4.6 Q2.3,0.9 5,0.9 Q7.7,0.9 7.6,4.6 L7.9,8.6 L2.1,8.6Z" fill="#d9bf8a"/><path d="M0.3,10 Q0.6,7.6 5,7.3 Q9.4,7.6 9.7,10Z" fill="#d9cfc6"/><rect x="4.0" y="5.8" width="2.0" height="2.0" fill="#e9c1a8"/><ellipse cx="5" cy="4.4" rx="2.3" ry="2.8" fill="#e9c1a8"/><path d="M3.9,4.35h.5M5.6,4.35h.5" stroke="#4a3a33" stroke-width=".35"/><path d="M4.4,5.7Q5,6.1 5.6,5.7" stroke="#b87a6a" stroke-width=".25" fill="none"/><path d="M2.8,4.9 Q2.6,1.2 5,1.2 Q7.4,1.2 7.2,4.9 Q6.7,2.2 5,2.3 Q3.3,2.2 2.8,4.9Z" fill="#d9bf8a"/></svg></i><b>Name Surname</b><u>Designation Position</u></div><div class="c" style="left:292.70px;top:400.20px;width:38.90px;height:17.00px;background:#ec7640"><i><svg viewBox="0 0 10 10" preserveAspectRatio="none"><path d="M0.3,10 Q0.6,7.6 5,7.3 Q9.4,7.6 9.7,10Z" fill="#e8e8ea"/><rect x="4.0" y="5.8" width="2.0" height="2.0" fill="#e9c1a8"/><ellipse cx="5" cy="4.4" rx="2.3" ry="2.8" fill="#e9c1a8"/><path d="M3.9,4.35h.5M5.6,4.35h.5" stroke="#4a3a33" stroke-width=".35"/><path d="M4.4,5.7Q5,6.1 5.6,5.7" stroke="#b87a6a" stroke-width=".25" fill="none"/><path d="M2.9,4.8 Q2.8,3.2 3.3,2.8 L3.4,4.6Z M7.1,4.8 Q7.2,3.2 6.7,2.8 L6.6,4.6Z" fill="#c9c4be"/></svg></i><b>Name Surname</b><u>Designation Position</u></div><div class="c" style="left:351.00px;top:369.60px;width:38.90px;height:17.00px;background:#926ca4"><i><svg viewBox="0 0 10 10" preserveAspectRatio="none"><path d="M0.3,10 Q0.6,7.6 5,7.3 Q9.4,7.6 9.7,10Z" fill="#e8e8ea"/><rect x="4.0" y="5.8" width="2.0" height="2.0" fill="#e9c1a8"/><ellipse cx="5" cy="4.4" rx="2.3" ry="2.8" fill="#e9c1a8"/><path d="M3.9,4.35h.5M5.6,4.35h.5" stroke="#4a3a33" stroke-width=".35"/><path d="M4.4,5.7Q5,6.1 5.6,5.7" stroke="#b87a6a" stroke-width=".25" fill="none"/><path d="M2.9,4.8 Q2.8,3.2 3.3,2.8 L3.4,4.6Z M7.1,4.8 Q7.2,3.2 6.7,2.8 L6.6,4.6Z" fill="#c9c4be"/></svg></i><b>Name Surname</b><u>Designation Position</u></div><div class="c" style="left:351.00px;top:400.20px;width:38.90px;height:17.00px;background:#926ca4"><i><svg viewBox="0 0 10 10" preserveAspectRatio="none"><path d="M0.3,10 Q0.6,7.6 5,7.3 Q9.4,7.6 9.7,10Z" fill="#7f9cc0"/><rect x="4.0" y="5.8" width="2.0" height="2.0" fill="#e9c1a8"/><ellipse cx="5" cy="4.4" rx="2.3" ry="2.8" fill="#e9c1a8"/><path d="M3.9,4.35h.5M5.6,4.35h.5" stroke="#4a3a33" stroke-width=".35"/><path d="M4.4,5.7Q5,6.1 5.6,5.7" stroke="#b87a6a" stroke-width=".25" fill="none"/><path d="M2.85,4.4 Q2.5,1.2 5,1.2 Q7.5,1.2 7.15,4.4 Q6.9,2.5 5,2.5 Q3.1,2.5 2.85,4.4Z" fill="#1e1a18"/></svg></i><b>Name Surname</b><u>Designation Position</u></div><div class="c" style="left:351.00px;top:430.60px;width:38.90px;height:17.00px;background:#926ca4"><i><svg viewBox="0 0 10 10" preserveAspectRatio="none"><path d="M2.4,4.6 Q2.3,0.9 5,0.9 Q7.7,0.9 7.6,4.6 L7.9,8.6 L2.1,8.6Z" fill="#1e1a18"/><path d="M0.3,10 Q0.6,7.6 5,7.3 Q9.4,7.6 9.7,10Z" fill="#e8e8ea"/><rect x="4.0" y="5.8" width="2.0" height="2.0" fill="#e9c1a8"/><ellipse cx="5" cy="4.4" rx="2.3" ry="2.8" fill="#e9c1a8"/><path d="M3.9,4.35h.5M5.6,4.35h.5" stroke="#4a3a33" stroke-width=".35"/><path d="M4.4,5.7Q5,6.1 5.6,5.7" stroke="#b87a6a" stroke-width=".25" fill="none"/><path d="M2.8,4.9 Q2.6,1.2 5,1.2 Q7.4,1.2 7.2,4.9 Q6.7,2.2 5,2.3 Q3.3,2.2 2.8,4.9Z" fill="#1e1a18"/></svg></i><b>Name Surname</b><u>Designation Position</u></div><div class="c" style="left:409.60px;top:358.00px;width:38.60px;height:17.00px;background:#425e78"><i><svg viewBox="0 0 10 10" preserveAspectRatio="none"><path d="M2.4,4.6 Q2.3,0.9 5,0.9 Q7.7,0.9 7.6,4.6 L7.9,8.6 L2.1,8.6Z" fill="#1e1a18"/><path d="M0.3,10 Q0.6,7.6 5,7.3 Q9.4,7.6 9.7,10Z" fill="#e8e8ea"/><rect x="4.0" y="5.8" width="2.0" height="2.0" fill="#e9c1a8"/><ellipse cx="5" cy="4.4" rx="2.3" ry="2.8" fill="#e9c1a8"/><path d="M3.9,4.35h.5M5.6,4.35h.5" stroke="#4a3a33" stroke-width=".35"/><path d="M4.4,5.7Q5,6.1 5.6,5.7" stroke="#b87a6a" stroke-width=".25" fill="none"/><path d="M2.8,4.9 Q2.6,1.2 5,1.2 Q7.4,1.2 7.2,4.9 Q6.7,2.2 5,2.3 Q3.3,2.2 2.8,4.9Z" fill="#1e1a18"/></svg></i><b>Name Surname</b><u>Designation Position</u></div><div class="c" style="left:409.60px;top:381.40px;width:38.60px;height:17.00px;background:#425e78"><i><svg viewBox="0 0 10 10" preserveAspectRatio="none"><path d="M0.3,10 Q0.6,7.6 5,7.3 Q9.4,7.6 9.7,10Z" fill="#2b2f3a"/><rect x="4.0" y="5.8" width="2.0" height="2.0" fill="#e9c1a8"/><ellipse cx="5" cy="4.4" rx="2.3" ry="2.8" fill="#e9c1a8"/><path d="M3.9,4.35h.5M5.6,4.35h.5" stroke="#4a3a33" stroke-width=".35"/><path d="M4.4,5.7Q5,6.1 5.6,5.7" stroke="#b87a6a" stroke-width=".25" fill="none"/><path d="M2.85,4.4 Q2.5,1.2 5,1.2 Q7.5,1.2 7.15,4.4 Q6.9,2.5 5,2.5 Q3.1,2.5 2.85,4.4Z" fill="#c9c4be"/></svg></i><b>Name Surname</b><u>Designation Position</u></div><div class="c" style="left:409.60px;top:419.10px;width:38.60px;height:17.00px;background:#425e78"><i><svg viewBox="0 0 10 10" preserveAspectRatio="none"><path d="M2.4,4.6 Q2.3,0.9 5,0.9 Q7.7,0.9 7.6,4.6 L7.9,8.6 L2.1,8.6Z" fill="#1e1a18"/><path d="M0.3,10 Q0.6,7.6 5,7.3 Q9.4,7.6 9.7,10Z" fill="#e8e8ea"/><rect x="4.0" y="5.8" width="2.0" height="2.0" fill="#e9c1a8"/><ellipse cx="5" cy="4.4" rx="2.3" ry="2.8" fill="#e9c1a8"/><path d="M3.9,4.35h.5M5.6,4.35h.5" stroke="#4a3a33" stroke-width=".35"/><path d="M4.4,5.7Q5,6.1 5.6,5.7" stroke="#b87a6a" stroke-width=".25" fill="none"/><path d="M2.8,4.9 Q2.6,1.2 5,1.2 Q7.4,1.2 7.2,4.9 Q6.7,2.2 5,2.3 Q3.3,2.2 2.8,4.9Z" fill="#1e1a18"/></svg></i><b>Name Surname</b><u>Designation Position</u></div><div class="c" style="left:409.60px;top:442.20px;width:38.60px;height:17.00px;background:#425e78"><i><svg viewBox="0 0 10 10" preserveAspectRatio="none"><path d="M0.3,10 Q0.6,7.6 5,7.3 Q9.4,7.6 9.7,10Z" fill="#7f9cc0"/><rect x="4.0" y="5.8" width="2.0" height="2.0" fill="#e9c1a8"/><ellipse cx="5" cy="4.4" rx="2.3" ry="2.8" fill="#e9c1a8"/><path d="M3.9,4.35h.5M5.6,4.35h.5" stroke="#4a3a33" stroke-width=".35"/><path d="M4.4,5.7Q5,6.1 5.6,5.7" stroke="#b87a6a" stroke-width=".25" fill="none"/><path d="M2.85,4.4 Q2.5,1.2 5,1.2 Q7.5,1.2 7.15,4.4 Q6.9,2.5 5,2.5 Q3.1,2.5 2.85,4.4Z" fill="#1e1a18"/></svg></i><b>Name Surname</b><u>Designation Position</u></div><div class="c" style="left:468.20px;top:389.20px;width:38.60px;height:17.00px;background:#425e78"><i><svg viewBox="0 0 10 10" preserveAspectRatio="none"><path d="M0.3,10 Q0.6,7.6 5,7.3 Q9.4,7.6 9.7,10Z" fill="#2b2f3a"/><rect x="4.0" y="5.8" width="2.0" height="2.0" fill="#e9c1a8"/><ellipse cx="5" cy="4.4" rx="2.3" ry="2.8" fill="#e9c1a8"/><path d="M3.9,4.35h.5M5.6,4.35h.5" stroke="#4a3a33" stroke-width=".35"/><path d="M4.4,5.7Q5,6.1 5.6,5.7" stroke="#b87a6a" stroke-width=".25" fill="none"/><path d="M2.85,4.4 Q2.5,1.2 5,1.2 Q7.5,1.2 7.15,4.4 Q6.9,2.5 5,2.5 Q3.1,2.5 2.85,4.4Z" fill="#c9c4be"/></svg></i><b>Name Surname</b><u>Designation Position</u></div><div class="c" style="left:468.20px;top:412.60px;width:38.60px;height:17.00px;background:#425e78"><i><svg viewBox="0 0 10 10" preserveAspectRatio="none"><path d="M0.3,10 Q0.6,7.6 5,7.3 Q9.4,7.6 9.7,10Z" fill="#e8e8ea"/><rect x="4.0" y="5.8" width="2.0" height="2.0" fill="#7a4e36"/><ellipse cx="5" cy="4.4" rx="2.3" ry="2.8" fill="#7a4e36"/><path d="M3.9,4.35h.5M5.6,4.35h.5" stroke="#4a3a33" stroke-width=".35"/><path d="M4.4,5.7Q5,6.1 5.6,5.7" stroke="#b87a6a" stroke-width=".25" fill="none"/><path d="M2.9,4.8 Q2.8,3.2 3.3,2.8 L3.4,4.6Z M7.1,4.8 Q7.2,3.2 6.7,2.8 L6.6,4.6Z" fill="#1e1a18"/></svg></i><b>Name Surname</b><u>Designation Position</u></div><div class="c" style="left:549.90px;top:358.10px;width:38.40px;height:17.10px;background:#ec7640"><i><svg viewBox="0 0 10 10" preserveAspectRatio="none"><path d="M2.4,4.6 Q2.3,0.9 5,0.9 Q7.7,0.9 7.6,4.6 L7.9,8.6 L2.1,8.6Z" fill="#1e1a18"/><path d="M0.3,10 Q0.6,7.6 5,7.3 Q9.4,7.6 9.7,10Z" fill="#e8e8ea"/><rect x="4.0" y="5.8" width="2.0" height="2.0" fill="#e9c1a8"/><ellipse cx="5" cy="4.4" rx="2.3" ry="2.8" fill="#e9c1a8"/><path d="M3.9,4.35h.5M5.6,4.35h.5" stroke="#4a3a33" stroke-width=".35"/><path d="M4.4,5.7Q5,6.1 5.6,5.7" stroke="#b87a6a" stroke-width=".25" fill="none"/><path d="M2.8,4.9 Q2.6,1.2 5,1.2 Q7.4,1.2 7.2,4.9 Q6.7,2.2 5,2.3 Q3.3,2.2 2.8,4.9Z" fill="#1e1a18"/></svg></i><b>Name Surname</b><u>Designation Position</u></div><div class="gb" style="left:624.20px;top:383.90px;width:128.50px;height:24.60px;border:0.6px solid #e4e3e4;border-radius:2.2px;background:#f9f8f9"></div><div class="tl" style="left:625.70px;top:382.30px">Team 1</div><div class="c" style="left:571.50px;top:387.90px;width:39.00px;height:17.00px;background:#926ca4"><i><svg viewBox="0 0 10 10" preserveAspectRatio="none"><path d="M2.4,4.6 Q2.3,0.9 5,0.9 Q7.7,0.9 7.6,4.6 L7.9,8.6 L2.1,8.6Z" fill="#1e1a18"/><path d="M0.3,10 Q0.6,7.6 5,7.3 Q9.4,7.6 9.7,10Z" fill="#e8e8ea"/><rect x="4.0" y="5.8" width="2.0" height="2.0" fill="#7a4e36"/><ellipse cx="5" cy="4.4" rx="2.3" ry="2.8" fill="#7a4e36"/><path d="M3.9,4.35h.5M5.6,4.35h.5" stroke="#4a3a33" stroke-width=".35"/><path d="M4.4,5.7Q5,6.1 5.6,5.7" stroke="#b87a6a" stroke-width=".25" fill="none"/><path d="M2.8,4.9 Q2.6,1.2 5,1.2 Q7.4,1.2 7.2,4.9 Q6.7,2.2 5,2.3 Q3.3,2.2 2.8,4.9Z" fill="#1e1a18"/></svg></i><b>Name Surname</b><u>Designation Position</u></div><div class="c" style="left:628.00px;top:387.90px;width:38.70px;height:17.00px;background:#425e78"><i><svg viewBox="0 0 10 10" preserveAspectRatio="none"><circle cx="5" cy="3.7" r="3.3" fill="#1e1a18"/><path d="M0.3,10 Q0.6,7.6 5,7.3 Q9.4,7.6 9.7,10Z" fill="#7f9cc0"/><rect x="4.0" y="5.8" width="2.0" height="2.0" fill="#7a4e36"/><ellipse cx="5" cy="4.4" rx="2.3" ry="2.8" fill="#7a4e36"/><path d="M3.9,4.35h.5M5.6,4.35h.5" stroke="#4a3a33" stroke-width=".35"/><path d="M4.4,5.7Q5,6.1 5.6,5.7" stroke="#b87a6a" stroke-width=".25" fill="none"/></svg></i><b>Name Surname</b><u>Designation Position</u></div><div class="c" style="left:669.40px;top:387.90px;width:38.70px;height:17.00px;background:#425e78"><i><svg viewBox="0 0 10 10" preserveAspectRatio="none"><path d="M2.4,4.6 Q2.3,0.9 5,0.9 Q7.7,0.9 7.6,4.6 L7.9,8.6 L2.1,8.6Z" fill="#d9bf8a"/><path d="M0.3,10 Q0.6,7.6 5,7.3 Q9.4,7.6 9.7,10Z" fill="#e8e8ea"/><rect x="4.0" y="5.8" width="2.0" height="2.0" fill="#f0cdb8"/><ellipse cx="5" cy="4.4" rx="2.3" ry="2.8" fill="#f0cdb8"/><path d="M3.9,4.35h.5M5.6,4.35h.5" stroke="#4a3a33" stroke-width=".35"/><path d="M4.4,5.7Q5,6.1 5.6,5.7" stroke="#b87a6a" stroke-width=".25" fill="none"/><path d="M2.8,4.9 Q2.6,1.2 5,1.2 Q7.4,1.2 7.2,4.9 Q6.7,2.2 5,2.3 Q3.3,2.2 2.8,4.9Z" fill="#d9bf8a"/></svg></i><b>Name Surname</b><u>Designation Position</u></div><div class="c" style="left:710.90px;top:387.90px;width:38.70px;height:17.00px;background:#425e78"><i><svg viewBox="0 0 10 10" preserveAspectRatio="none"><path d="M2.4,4.6 Q2.3,0.9 5,0.9 Q7.7,0.9 7.6,4.6 L7.9,8.6 L2.1,8.6Z" fill="#1e1a18"/><path d="M0.3,10 Q0.6,7.6 5,7.3 Q9.4,7.6 9.7,10Z" fill="#e8e8ea"/><rect x="4.0" y="5.8" width="2.0" height="2.0" fill="#e9c1a8"/><ellipse cx="5" cy="4.4" rx="2.3" ry="2.8" fill="#e9c1a8"/><path d="M3.9,4.35h.5M5.6,4.35h.5" stroke="#4a3a33" stroke-width=".35"/><path d="M4.4,5.7Q5,6.1 5.6,5.7" stroke="#b87a6a" stroke-width=".25" fill="none"/><path d="M2.8,4.9 Q2.6,1.2 5,1.2 Q7.4,1.2 7.2,4.9 Q6.7,2.2 5,2.3 Q3.3,2.2 2.8,4.9Z" fill="#1e1a18"/></svg></i><b>Name Surname</b><u>Designation Position</u></div><div class="gb" style="left:624.20px;top:411.30px;width:128.50px;height:24.60px;border:0.6px solid #e4e3e4;border-radius:2.2px;background:#f9f8f9"></div><div class="tl" style="left:625.70px;top:409.70px">Team 2</div><div class="c" style="left:571.50px;top:415.30px;width:39.00px;height:17.00px;background:#926ca4"><i><svg viewBox="0 0 10 10" preserveAspectRatio="none"><path d="M0.3,10 Q0.6,7.6 5,7.3 Q9.4,7.6 9.7,10Z" fill="#8f949c"/><rect x="4.0" y="5.8" width="2.0" height="2.0" fill="#e9c1a8"/><ellipse cx="5" cy="4.4" rx="2.3" ry="2.8" fill="#e9c1a8"/><path d="M3.9,4.35h.5M5.6,4.35h.5" stroke="#4a3a33" stroke-width=".35"/><path d="M4.4,5.7Q5,6.1 5.6,5.7" stroke="#b87a6a" stroke-width=".25" fill="none"/><path d="M2.85,4.4 Q2.5,1.2 5,1.2 Q7.5,1.2 7.15,4.4 Q6.9,2.5 5,2.5 Q3.1,2.5 2.85,4.4Z" fill="#1e1a18"/></svg></i><b>Name Surname</b><u>Designation Position</u></div><div class="c" style="left:628.00px;top:415.30px;width:38.70px;height:17.00px;background:#425e78"><i><svg viewBox="0 0 10 10" preserveAspectRatio="none"><path d="M0.3,10 Q0.6,7.6 5,7.3 Q9.4,7.6 9.7,10Z" fill="#e8e8ea"/><rect x="4.0" y="5.8" width="2.0" height="2.0" fill="#7a4e36"/><ellipse cx="5" cy="4.4" rx="2.3" ry="2.8" fill="#7a4e36"/><path d="M3.9,4.35h.5M5.6,4.35h.5" stroke="#4a3a33" stroke-width=".35"/><path d="M4.4,5.7Q5,6.1 5.6,5.7" stroke="#b87a6a" stroke-width=".25" fill="none"/><path d="M2.85,4.4 Q2.5,1.2 5,1.2 Q7.5,1.2 7.15,4.4 Q6.9,2.5 5,2.5 Q3.1,2.5 2.85,4.4Z" fill="#1e1a18"/></svg></i><b>Name Surname</b><u>Designation Position</u></div><div class="c" style="left:669.40px;top:415.30px;width:38.70px;height:17.00px;background:#425e78"><i><svg viewBox="0 0 10 10" preserveAspectRatio="none"><path d="M0.3,10 Q0.6,7.6 5,7.3 Q9.4,7.6 9.7,10Z" fill="#e8e8ea"/><rect x="4.0" y="5.8" width="2.0" height="2.0" fill="#e9c1a8"/><ellipse cx="5" cy="4.4" rx="2.3" ry="2.8" fill="#e9c1a8"/><path d="M3.9,4.35h.5M5.6,4.35h.5" stroke="#4a3a33" stroke-width=".35"/><path d="M4.4,5.7Q5,6.1 5.6,5.7" stroke="#b87a6a" stroke-width=".25" fill="none"/><path d="M2.85,4.4 Q2.5,1.2 5,1.2 Q7.5,1.2 7.15,4.4 Q6.9,2.5 5,2.5 Q3.1,2.5 2.85,4.4Z" fill="#1e1a18"/></svg></i><b>Name Surname</b><u>Designation Position</u></div><div class="c" style="left:710.90px;top:415.30px;width:38.70px;height:17.00px;background:#425e78"><i><svg viewBox="0 0 10 10" preserveAspectRatio="none"><path d="M0.3,10 Q0.6,7.6 5,7.3 Q9.4,7.6 9.7,10Z" fill="#2b2f3a"/><rect x="4.0" y="5.8" width="2.0" height="2.0" fill="#e9c1a8"/><ellipse cx="5" cy="4.4" rx="2.3" ry="2.8" fill="#e9c1a8"/><path d="M3.9,4.35h.5M5.6,4.35h.5" stroke="#4a3a33" stroke-width=".35"/><path d="M4.4,5.7Q5,6.1 5.6,5.7" stroke="#b87a6a" stroke-width=".25" fill="none"/><path d="M2.85,4.4 Q2.5,1.2 5,1.2 Q7.5,1.2 7.15,4.4 Q6.9,2.5 5,2.5 Q3.1,2.5 2.85,4.4Z" fill="#1e1a18"/></svg></i><b>Name Surname</b><u>Designation Position</u></div><div class="gb" style="left:624.20px;top:438.80px;width:128.50px;height:24.60px;border:0.6px solid #e4e3e4;border-radius:2.2px;background:#f9f8f9"></div><div class="tl" style="left:625.70px;top:437.20px">Team 3</div><div class="c" style="left:571.50px;top:442.80px;width:39.00px;height:17.00px;background:#926ca4"><i><svg viewBox="0 0 10 10" preserveAspectRatio="none"><path d="M2.4,4.6 Q2.3,0.9 5,0.9 Q7.7,0.9 7.6,4.6 L7.9,8.6 L2.1,8.6Z" fill="#d9bf8a"/><path d="M0.3,10 Q0.6,7.6 5,7.3 Q9.4,7.6 9.7,10Z" fill="#e8e8ea"/><rect x="4.0" y="5.8" width="2.0" height="2.0" fill="#f0cdb8"/><ellipse cx="5" cy="4.4" rx="2.3" ry="2.8" fill="#f0cdb8"/><path d="M3.9,4.35h.5M5.6,4.35h.5" stroke="#4a3a33" stroke-width=".35"/><path d="M4.4,5.7Q5,6.1 5.6,5.7" stroke="#b87a6a" stroke-width=".25" fill="none"/><path d="M2.8,4.9 Q2.6,1.2 5,1.2 Q7.4,1.2 7.2,4.9 Q6.7,2.2 5,2.3 Q3.3,2.2 2.8,4.9Z" fill="#d9bf8a"/></svg></i><b>Name Surname</b><u>Designation Position</u></div><div class="c" style="left:628.00px;top:442.80px;width:38.70px;height:17.00px;background:#425e78"><i><svg viewBox="0 0 10 10" preserveAspectRatio="none"><path d="M0.3,10 Q0.6,7.6 5,7.3 Q9.4,7.6 9.7,10Z" fill="#2b2f3a"/><rect x="4.0" y="5.8" width="2.0" height="2.0" fill="#e9c1a8"/><ellipse cx="5" cy="4.4" rx="2.3" ry="2.8" fill="#e9c1a8"/><path d="M3.9,4.35h.5M5.6,4.35h.5" stroke="#4a3a33" stroke-width=".35"/><path d="M4.4,5.7Q5,6.1 5.6,5.7" stroke="#b87a6a" stroke-width=".25" fill="none"/><path d="M2.9,4.8 Q2.8,3.2 3.3,2.8 L3.4,4.6Z M7.1,4.8 Q7.2,3.2 6.7,2.8 L6.6,4.6Z" fill="#c9c4be"/></svg></i><b>Name Surname</b><u>Designation Position</u></div><div class="c" style="left:669.40px;top:442.80px;width:38.70px;height:17.00px;background:#425e78"><i><svg viewBox="0 0 10 10" preserveAspectRatio="none"><path d="M0.3,10 Q0.6,7.6 5,7.3 Q9.4,7.6 9.7,10Z" fill="#e8e8ea"/><rect x="4.0" y="5.8" width="2.0" height="2.0" fill="#e9c1a8"/><ellipse cx="5" cy="4.4" rx="2.3" ry="2.8" fill="#e9c1a8"/><path d="M3.9,4.35h.5M5.6,4.35h.5" stroke="#4a3a33" stroke-width=".35"/><path d="M4.4,5.7Q5,6.1 5.6,5.7" stroke="#b87a6a" stroke-width=".25" fill="none"/><path d="M2.85,4.4 Q2.5,1.2 5,1.2 Q7.5,1.2 7.15,4.4 Q6.9,2.5 5,2.5 Q3.1,2.5 2.85,4.4Z" fill="#1e1a18"/></svg></i><b>Name Surname</b><u>Designation Position</u></div><div class="c" style="left:710.90px;top:442.80px;width:38.70px;height:17.00px;background:#425e78"><i><svg viewBox="0 0 10 10" preserveAspectRatio="none"><path d="M0.3,10 Q0.6,7.6 5,7.3 Q9.4,7.6 9.7,10Z" fill="#8f949c"/><rect x="4.0" y="5.8" width="2.0" height="2.0" fill="#e9c1a8"/><ellipse cx="5" cy="4.4" rx="2.3" ry="2.8" fill="#e9c1a8"/><path d="M3.9,4.35h.5M5.6,4.35h.5" stroke="#4a3a33" stroke-width=".35"/><path d="M4.4,5.7Q5,6.1 5.6,5.7" stroke="#b87a6a" stroke-width=".25" fill="none"/><path d="M2.9,4.8 Q2.8,3.2 3.3,2.8 L3.4,4.6Z M7.1,4.8 Q7.2,3.2 6.7,2.8 L6.6,4.6Z" fill="#c9c4be"/></svg></i><b>Name Surname</b><u>Designation Position</u></div>
<svg style="position:absolute;left:620px;top:470px;overflow:visible" width="180" height="60" viewBox="620 470 180 60">
<defs><filter id="sh" x="-20%" y="-20%" width="140%" height="140%"><feGaussianBlur in="SourceAlpha" stdDeviation="0.9"/><feOffset dx="0.6" dy="1.1"/><feComponentTransfer><feFuncA type="linear" slope="0.45"/></feComponentTransfer><feMerge><feMergeNode/><feMergeNode in="SourceGraphic"/></feMerge></filter><filter id="sh2" x="-20%" y="-20%" width="140%" height="140%"><feGaussianBlur in="SourceAlpha" stdDeviation="0.6"/><feOffset dx="0.5" dy="0.9"/><feComponentTransfer><feFuncA type="linear" slope="0.42"/></feComponentTransfer><feMerge><feMergeNode/><feMergeNode in="SourceGraphic"/></feMerge></filter></defs>
<g filter="url(#sh)" fill="#f3f3f3">
<path d="M665.6,484.0 A17.2,17.2 0 1 0 669.37,492.3 L650.3,492.3 L650.3,499.5 L663.6,499.5 A10.8,12 0 1 1 662.6,486 Z"/>
<circle cx="664.1" cy="485.1" r="1.9"/>
</g>
<path d="M642.3,501.5 A11.6,12.8 0 0 1 657.2,482.3" fill="none" stroke="#cfccc6" stroke-width="0.45"/>
<text x="673.6" y="492.7" font-family="Liberation Sans" font-weight="bold" font-size="13.3" fill="#fbfbfb" stroke="#fbfbfb" stroke-width="0.3" filter="url(#sh)" transform="translate(673.6 0) scale(1.225 1) translate(-673.6 0)">GFXAA.COM</text>
<g filter="url(#sh2)" stroke="#ffffff" stroke-width="1.0" fill="none" stroke-linecap="round" stroke-linejoin="round">
<path d="M673.8,498.5H677.5M675.7,498.5V507.6Q675.5,508.4 674.4,508.1M678.2,498.2H685M681.6,498.3L681,500M679.1,500.2H684V505.6H679.1ZM679.1,502H684M679.1,503.8H684M680.9,506L678.6,508.5M682.6,506L685.1,508.5"/>
<path d="M695.4,497.9V502M692.2,499.3L691.7,500.9M698.5,498.9L699.4,500.6M690.2,503H700.9M695.3,502.3Q695.1,506.6 690.5,508.4M695.7,503.6Q697.2,507.2 700.9,508.4"/>
<path d="M707.3,508.1V498.8H709.8Q712.2,498.8 712.2,501.3Q712.2,503.8 709.8,503.8H707.3"/>
<path d="M720.9,508.1V498.8H723.4Q725.8,498.8 725.8,501.3Q725.8,503.8 723.4,503.8H720.9"/>
<path d="M733.7,498.8H740.3M737,498.8V508.1"/>
</g>
</svg>
</body></html>
